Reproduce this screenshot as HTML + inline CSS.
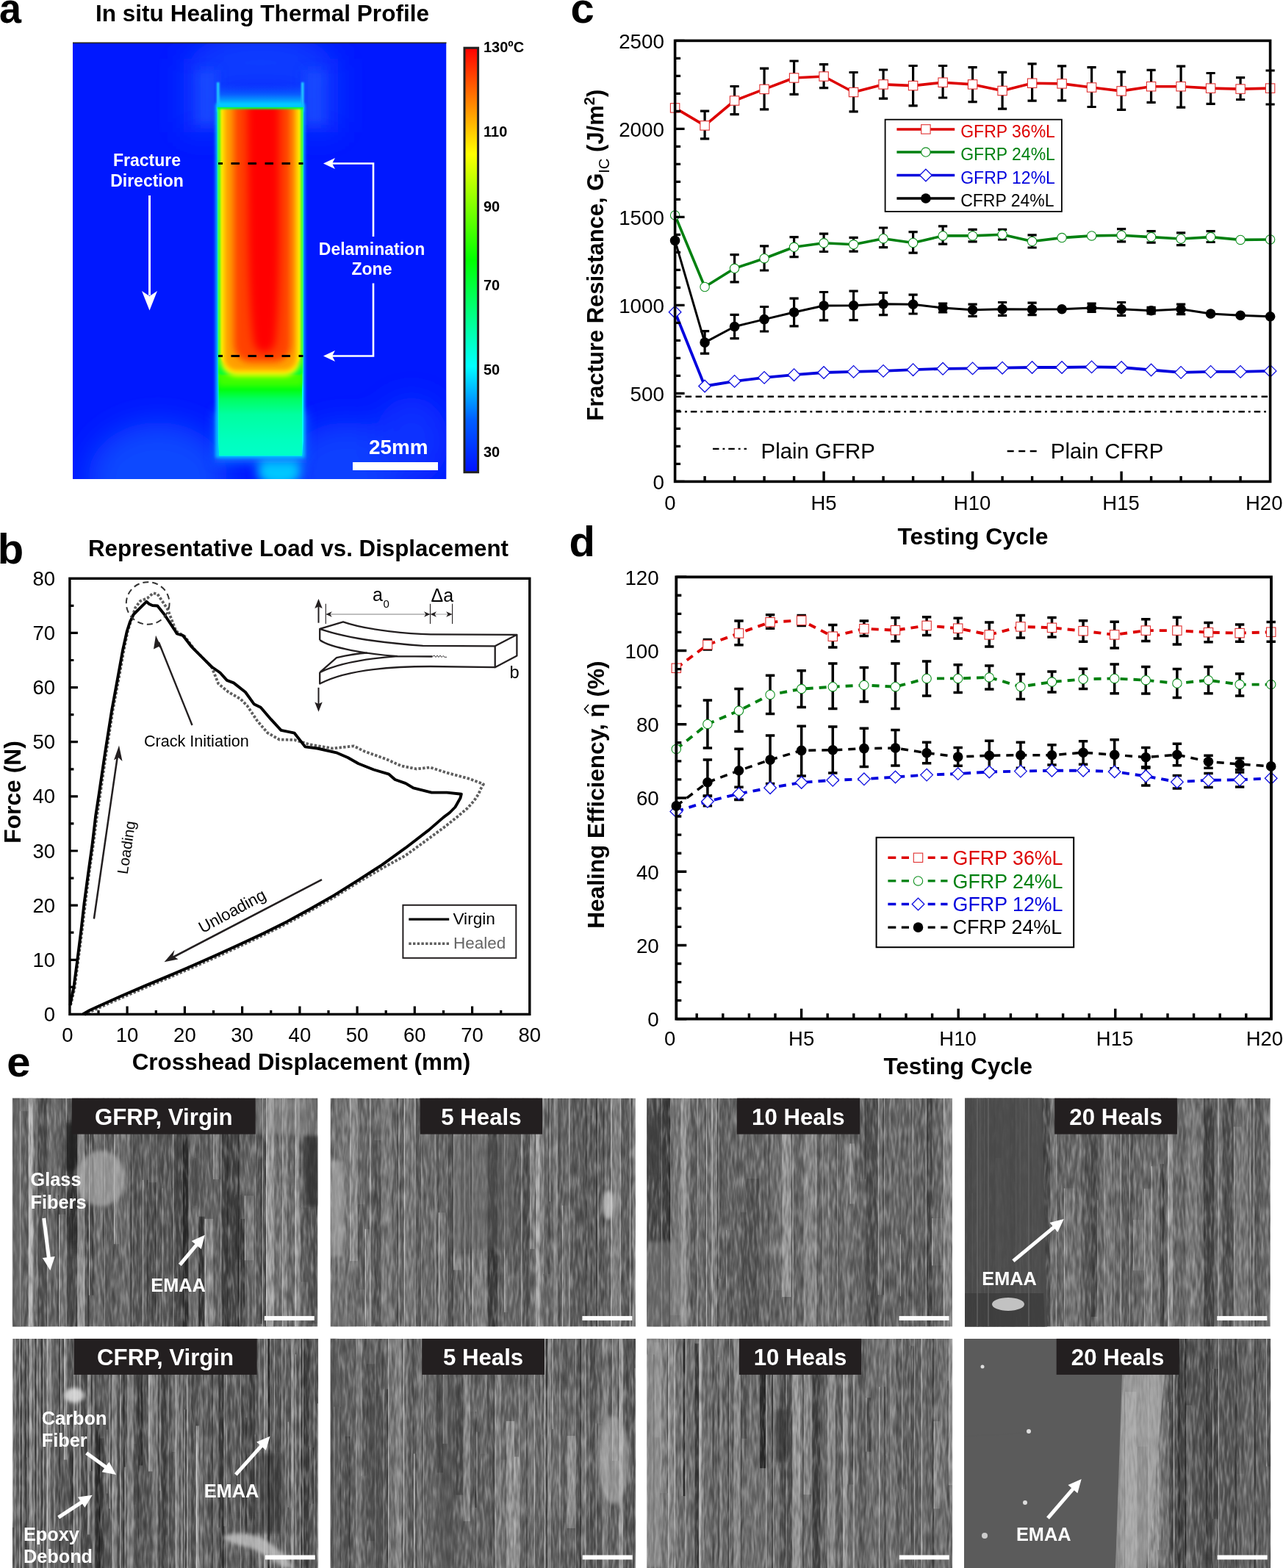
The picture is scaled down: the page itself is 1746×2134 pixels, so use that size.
<!DOCTYPE html>
<html><head><meta charset="utf-8"><title>Figure</title>
<style>
html,body{margin:0;padding:0;background:#fff;}
#fig{position:relative;width:1746px;height:2134px;overflow:hidden;background:#fff;}
svg{display:block;font-family:'Liberation Sans', Arial, sans-serif;}
</style></head><body><div id="fig">
<svg width="1746" height="2134" viewBox="0 0 1746 2134">
<text transform="translate(-1,30.5) scale(0.93,1)" font-size="58" font-weight="bold">a</text>
<text x="130" y="28.5" font-size="31.5" font-weight="bold" textLength="454" lengthAdjust="spacingAndGlyphs">In situ Healing Thermal Profile</text>
<defs><clipPath id="thc"><rect x="99" y="58.5" width="508.5" height="593.5"/></clipPath><clipPath id="spc"><path d="M295.5,146 L412.7,146 L412.7,600 L411,620.5 L298.4,620.5 L297,600 Z"/></clipPath><filter id="b1" x="-50%" y="-50%" width="200%" height="200%"><feGaussianBlur stdDeviation="1.2"/></filter><filter id="b3" x="-50%" y="-50%" width="200%" height="200%"><feGaussianBlur stdDeviation="3.5"/></filter><filter id="b5" x="-50%" y="-50%" width="200%" height="200%"><feGaussianBlur stdDeviation="5"/></filter><filter id="b6" x="-50%" y="-50%" width="200%" height="200%"><feGaussianBlur stdDeviation="6"/></filter><filter id="b2" x="-50%" y="-50%" width="200%" height="200%"><feGaussianBlur stdDeviation="2"/></filter><filter id="b4" x="-50%" y="-50%" width="200%" height="200%"><feGaussianBlur stdDeviation="4"/></filter><filter id="b7" x="-50%" y="-50%" width="200%" height="200%"><feGaussianBlur stdDeviation="7"/></filter><filter id="b12" x="-50%" y="-50%" width="200%" height="200%"><feGaussianBlur stdDeviation="12"/></filter><filter id="b20" x="-50%" y="-50%" width="200%" height="200%"><feGaussianBlur stdDeviation="20"/></filter><linearGradient id="lowg" x1="0" y1="0" x2="0" y2="1" gradientUnits="objectBoundingBox"><stop offset="0" stop-color="#60ff00"/><stop offset="0.25" stop-color="#20ff00"/><stop offset="0.36" stop-color="#00ff10"/><stop offset="0.45" stop-color="#00ff60"/><stop offset="0.6" stop-color="#00ffa0"/><stop offset="0.85" stop-color="#00ffbe"/><stop offset="1" stop-color="#00ffc8"/></linearGradient><linearGradient id="topg" x1="0" y1="0" x2="0" y2="1"><stop offset="0" stop-color="#0a40ff" stop-opacity="0"/><stop offset="0.5" stop-color="#0a60ff"/><stop offset="0.8" stop-color="#00b0ff"/><stop offset="1" stop-color="#00f0ff"/></linearGradient><linearGradient id="jet" x1="0" y1="1" x2="0" y2="0"><stop offset="0" stop-color="#0010ff"/><stop offset="0.125" stop-color="#0060ff"/><stop offset="0.25" stop-color="#00ffff"/><stop offset="0.5" stop-color="#00ff00"/><stop offset="0.75" stop-color="#ffff00"/><stop offset="0.875" stop-color="#ff8000"/><stop offset="1" stop-color="#ff0000"/></linearGradient></defs>
<g clip-path="url(#thc)">
<rect x="99" y="58.5" width="508.5" height="593.5" fill="#0018ff"/>
<g filter="url(#b20)"><ellipse cx="355" cy="85" rx="95" ry="40" fill="#0c3cff"/><rect x="250" y="80" width="55" height="100" fill="#0c3aff"/><rect x="405" y="80" width="55" height="100" fill="#0c3aff"/><ellipse cx="215" cy="650" rx="95" ry="75" fill="#1048ff"/><ellipse cx="470" cy="640" rx="80" ry="65" fill="#0c40ff"/><ellipse cx="560" cy="600" rx="50" ry="60" fill="#0a30ff"/></g>
<g filter="url(#b7)"><ellipse cx="380" cy="642" rx="30" ry="20" fill="#00c8ff"/><rect x="292" y="560" width="125" height="70" fill="#0a70ff"/><rect x="268" y="95" width="28" height="75" fill="#1a50ff" opacity="0.7"/><rect x="414" y="95" width="28" height="75" fill="#1a50ff" opacity="0.7"/></g>
<rect x="298" y="112" width="112" height="34" fill="url(#topg)"/>
<g filter="url(#b1)"><rect x="295" y="112" width="3.5" height="40" fill="#20d0ff"/><rect x="410" y="112" width="3.5" height="40" fill="#20d0ff"/></g>
<g filter="url(#b2)"><rect x="293.5" y="141" width="121" height="482" fill="#00c8ff"/></g>
<g clip-path="url(#spc)">
<rect x="295.5" y="130" width="118.5" height="495" fill="#00ffff"/>
<rect x="297.5" y="480" width="113.5" height="140" fill="url(#lowg)"/>
<g filter="url(#b3)"><rect x="297.6" y="100" width="113.8" height="425" rx="4" fill="#40ff00"/></g><g filter="url(#b1)"><rect x="297.6" y="100" width="113.8" height="410" rx="4" fill="#00ff30"/></g>
<g filter="url(#b3)"><rect x="300.5" y="100" width="108" height="412" rx="22" fill="#ffff00"/></g><g filter="url(#b1)"><rect x="300.8" y="100" width="107.4" height="395" rx="10" fill="#ffff00"/></g>
<g filter="url(#b3)"><rect x="304.5" y="100" width="100" height="405" rx="18" fill="#ffa000"/></g>
<g filter="url(#b5)"><rect x="318" y="100" width="78" height="393" rx="24" fill="#ff4200"/></g>
<g filter="url(#b6)"><path d="M336,100 L380,100 L380,330 Q379,440 374,470 Q360,490 346,470 Q340,440 338,330 Z" fill="#ff0000"/></g>
<g filter="url(#b1)"><rect x="296" y="144" width="117" height="4.5" fill="#00ff40"/></g>
</g>
</g>
<rect x="99" y="57.5" width="508.5" height="1.6" fill="#222"/>
<line x1="297" y1="222.5" x2="412.5" y2="222.5" stroke="#000" stroke-width="3" stroke-dasharray="11.5 11.5" stroke-dashoffset="5.5"/>
<line x1="297" y1="484.5" x2="412.5" y2="484.5" stroke="#000" stroke-width="3" stroke-dasharray="11.5 11.5" stroke-dashoffset="5.5"/>
<text x="200" y="225.7" font-size="23" font-weight="bold" text-anchor="middle" fill="#fff">Fracture</text>
<text x="200" y="253.8" font-size="23" font-weight="bold" text-anchor="middle" fill="#fff">Direction</text>
<line x1="203.5" y1="266" x2="203.5" y2="402" stroke="#fff" stroke-width="3"/>
<path d="M193,396 L203.5,422.5 L214,396 L203.5,403 Z" fill="#fff"/>
<text x="506" y="347" font-size="23" font-weight="bold" text-anchor="middle" fill="#fff">Delamination</text>
<text x="506" y="374" font-size="23" font-weight="bold" text-anchor="middle" fill="#fff">Zone</text>
<polyline points="508,322 508,222.5 448,222.5" fill="none" stroke="#fff" stroke-width="2.6"/>
<polyline points="508,385.5 508,484.5 448,484.5" fill="none" stroke="#fff" stroke-width="2.6"/>
<path d="M440,222.5 L456,215 L452,222.5 L456,230 Z" fill="#fff"/>
<path d="M440,484.5 L456,477 L452,484.5 L456,492 Z" fill="#fff"/>
<rect x="480" y="629" width="116" height="11" fill="#fff"/>
<text x="502" y="617.5" font-size="27.9" font-weight="bold" fill="#fff">25mm</text>
<rect x="632" y="65.2" width="18.6" height="577.5" fill="url(#jet)" stroke="#222" stroke-width="3"/>
<text x="658" y="71" font-size="20" font-weight="bold">130ºC</text>
<text x="658" y="186" font-size="20" font-weight="bold">110</text>
<text x="658" y="287.7" font-size="20" font-weight="bold">90</text>
<text x="658" y="395.4" font-size="20" font-weight="bold">70</text>
<text x="658" y="510" font-size="20" font-weight="bold">50</text>
<text x="658" y="621.7" font-size="20" font-weight="bold">30</text>
<text x="-3.2" y="767" font-size="58" font-weight="bold">b</text>
<text x="120" y="757" font-size="31.3" font-weight="bold" textLength="572" lengthAdjust="spacingAndGlyphs">Representative Load vs. Displacement</text>
<polyline points="96,1368 98,1360 101.5,1345 106,1310 112,1264 116,1230 121,1190 127,1149 132,1110 136.5,1080 144.5,1025 153.5,967 163,916 168.5,885 174,858 184.3,826.8 191,818 200.5,814.1 208.5,807.2 214.3,808.4 228.1,829.1 239.6,859.1 251.2,866 265,884.4 288,907.5 297.2,930.5 311,942 327.2,951.2 336.4,960.5 350.2,981.2 364,997.3 380.2,1006.5 400.7,1007 421.5,1013.3 452.6,1018.5 481.6,1015.4 496.1,1022.6 525.2,1033 545.9,1042.3 566.6,1046.5 585.3,1044.4 608.1,1051.7 639.2,1060 657.9,1067.2 653.7,1074.5 651.7,1080 645,1090 636,1100 622,1112 605,1125.5 583.9,1141 551.6,1164.5 519.4,1182 487.1,1201 454.8,1221 422.6,1239.3 390.3,1256.9 358,1272.9 325.8,1288 293.5,1302.8 261.3,1317 229,1330.9 196.8,1344.4 164.5,1358.3 132.3,1372.6 122,1377.3 115,1381" fill="none" stroke="#5e5e5e" stroke-width="3.8" stroke-dasharray="3.4 2.3" stroke-linejoin="round"/>
<polyline points="95.5,1368 96.8,1360 100.2,1345 104.8,1310.4 110.6,1264.3 114.5,1229.8 119.8,1190.6 125.6,1149.1 130.2,1110 134.8,1080 142.9,1025 152,967.4 161.3,916.7 167,885 172.8,859 177,846 182,836 191.2,826.8 199.3,818.8 203,822 207.4,824 214.3,824.5 223.5,836 237.3,856.8 240.8,862.5 248.8,864.8 260.4,879.8 276.5,896 288,907.5 299.5,915.5 308.8,925.9 318,929.4 334,942 345.6,958.2 354.8,962.8 368.7,978.9 382.5,993.9 400.7,997.7 415.3,1016.4 431.8,1018.5 458.8,1024.7 473.3,1031 487.8,1039.2 508.6,1047.5 529.3,1053.7 537.6,1061 552.1,1066.2 562.5,1072.4 587.4,1078.6 608.1,1078.6 627.8,1080.7 626.5,1086 622,1094 619.4,1098.5 612,1106 603.2,1112.6 583.9,1129.4 551.6,1154.2 519.4,1177.3 487.1,1198.1 454.8,1218.4 422.6,1236.8 390.3,1254.4 358,1270.4 325.8,1285.5 293.5,1300.3 261.3,1314.5 229,1328.4 196.8,1341.9 164.5,1355.8 132.3,1370.3 122,1375 112.9,1380.2" fill="none" stroke="#000" stroke-width="3.9" stroke-linejoin="round"/>
<ellipse cx="201.2" cy="821" rx="29.4" ry="28.8" fill="none" stroke="#333" stroke-width="2" stroke-dasharray="8 5"/>
<line x1="261.5" y1="987" x2="216" y2="874" stroke="#231f20" stroke-width="2.4"/>
<path d="M212,864.8 L221.5,885 L216,880 L209,883.5 Z" fill="#231f20"/>
<text x="195.9" y="1016.2" font-size="21.6">Crack Initiation</text>
<line x1="127.9" y1="1250.5" x2="160.5" y2="1025" stroke="#231f20" stroke-width="2.5"/>
<path d="M162,1014.6 L166.5,1036 L161,1031 L155,1034.5 Z" fill="#231f20"/>
<text transform="translate(179,1154.5) rotate(-81.5)" font-size="20.5" text-anchor="middle">Loading</text>
<line x1="438" y1="1197.2" x2="232" y2="1304.5" stroke="#231f20" stroke-width="2.6"/>
<path d="M223.5,1309.3 L237.5,1293 L235.5,1301 L242.5,1305.5 Z" fill="#231f20"/>
<text transform="translate(319.5,1246.5) rotate(-28.5)" font-size="22.3" text-anchor="middle">Unloading</text>
<rect x="548.4" y="1231.8" width="153.9" height="72" fill="#fff" stroke="#231f20" stroke-width="2"/>
<line x1="556.3" y1="1251.1" x2="611.2" y2="1251.1" stroke="#000" stroke-width="3.2"/>
<text x="616.4" y="1258.3" font-size="22.7">Virgin</text>
<line x1="556.3" y1="1284.3" x2="611.2" y2="1284.3" stroke="#5e5e5e" stroke-width="3.6" stroke-dasharray="3.4 2.3"/>
<text x="617" y="1291.1" font-size="22.5" fill="#666">Healed</text>
<line x1="433.5" y1="847.7" x2="433.5" y2="824" stroke="#231f20" stroke-width="2"/>
<path d="M433.5,814.9 L438.7,828 L433.5,825.5 L428.3,828 Z" fill="#231f20"/>
<line x1="433.5" y1="935.8" x2="433.5" y2="960" stroke="#231f20" stroke-width="2"/>
<path d="M433.5,968.7 L438.7,955.6 L433.5,958 L428.3,955.6 Z" fill="#231f20"/>
<line x1="443.3" y1="821.8" x2="443.3" y2="849" stroke="#231f20" stroke-width="1.1"/>
<line x1="585.5" y1="821.8" x2="585.5" y2="849" stroke="#231f20" stroke-width="1.1"/>
<line x1="615.6" y1="821.8" x2="615.6" y2="849" stroke="#231f20" stroke-width="1.1"/>
<line x1="445" y1="836" x2="584" y2="836" stroke="#aaa" stroke-width="1.3"/>
<line x1="587" y1="836" x2="614" y2="836" stroke="#aaa" stroke-width="1.1"/>
<path d="M443.3,836 l8.5,-3.7 l-2.5,3.7 l2.5,3.7 Z" fill="#231f20"/>
<path d="M585.5,836 l-8.5,-3.7 l2.5,3.7 l-2.5,3.7 Z" fill="#231f20"/>
<path d="M585.5,836 l8.5,-3.7 l-2.5,3.7 l2.5,3.7 Z" fill="#231f20"/>
<path d="M615.6,836 l-8.5,-3.7 l2.5,3.7 l-2.5,3.7 Z" fill="#231f20"/>
<text x="507" y="818.3" font-size="25">a</text>
<text x="521.5" y="826.6" font-size="15">0</text>
<text x="586.5" y="819" font-size="25">Δa</text>
<text x="693.5" y="922.9" font-size="23.7">b</text>
<path d="M435.2,871 L435.2,855.8 L467,846.3 C500,858 560,863 585.9,863.3 L703.4,863.8 L673.7,879.3 L575.5,878.8 C520,875 470,868 435.2,855.8 M703.4,863.8 L703.4,892.6 L673.7,908.2 L673.7,879.3 M435.2,871 C450,882 500,890 541,893.2 L588.5,893.5 M435.2,915.1 L435.2,930.6 C470,912 530,907 585.9,907 L673.7,908.2 M435.2,915.1 L458,895.2 C475,891 490,889 500,888.5 M435.2,915.1 C460,903 500,896 541,893.2" fill="none" stroke="#231f20" stroke-width="2.3" stroke-linejoin="round"/>
<path d="M588.5,893.5 l2.5,-1.5 l2,2.5 l2,-2.5 l2,2.5 l2,-2.5 l2,2.5 l2,-2 l2,1.8 l3,0" fill="none" stroke="#231f20" stroke-width="0.9"/>
<rect x="94.9" y="787.3" width="625.9" height="593.1" fill="none" stroke="#000" stroke-width="3.4"/>
<path d="M94.9,1343.3h5.5M94.9,1306.3h11M94.9,1269.2h5.5M94.9,1232.1h11M94.9,1195.1h5.5M94.9,1158h11M94.9,1120.9h5.5M94.9,1083.8h11M94.9,1046.8h5.5M94.9,1009.7h11M94.9,972.6h5.5M94.9,935.6h11M94.9,898.5h5.5M94.9,861.4h11M94.9,824.4h5.5M134,1380.4v-5.5M173.1,1380.4v-11M212.3,1380.4v-5.5M251.4,1380.4v-11M290.5,1380.4v-5.5M329.6,1380.4v-11M368.7,1380.4v-5.5M407.9,1380.4v-11M447,1380.4v-5.5M486.1,1380.4v-11M525.2,1380.4v-5.5M564.3,1380.4v-11M603.5,1380.4v-5.5M642.6,1380.4v-11M681.7,1380.4v-5.5" stroke="#000" stroke-width="3.2" fill="none"/>
<text x="75" y="1389.9" font-size="27.5" text-anchor="end">0</text>
<text x="91.9" y="1417.6" font-size="27.5" text-anchor="middle">0</text>
<text x="75" y="1315.8" font-size="27.5" text-anchor="end">10</text>
<text x="173.1" y="1417.6" font-size="27.5" text-anchor="middle">10</text>
<text x="75" y="1241.6" font-size="27.5" text-anchor="end">20</text>
<text x="251.4" y="1417.6" font-size="27.5" text-anchor="middle">20</text>
<text x="75" y="1167.5" font-size="27.5" text-anchor="end">30</text>
<text x="329.6" y="1417.6" font-size="27.5" text-anchor="middle">30</text>
<text x="75" y="1093.3" font-size="27.5" text-anchor="end">40</text>
<text x="407.9" y="1417.6" font-size="27.5" text-anchor="middle">40</text>
<text x="75" y="1019.2" font-size="27.5" text-anchor="end">50</text>
<text x="486.1" y="1417.6" font-size="27.5" text-anchor="middle">50</text>
<text x="75" y="945.1" font-size="27.5" text-anchor="end">60</text>
<text x="564.3" y="1417.6" font-size="27.5" text-anchor="middle">60</text>
<text x="75" y="870.9" font-size="27.5" text-anchor="end">70</text>
<text x="642.6" y="1417.6" font-size="27.5" text-anchor="middle">70</text>
<text x="75" y="796.8" font-size="27.5" text-anchor="end">80</text>
<text x="720.8" y="1417.6" font-size="27.5" text-anchor="middle">80</text>
<text x="179.7" y="1456" font-size="31.4" font-weight="bold" textLength="460.6" lengthAdjust="spacingAndGlyphs">Crosshead Displacement (mm)</text>
<text transform="translate(27.8,1078) rotate(-90)" font-size="31.8" font-weight="bold" text-anchor="middle">Force (N)</text>
<line x1="918.6" y1="539.8" x2="1728.6" y2="539.8" stroke="#000" stroke-width="2.6" stroke-dasharray="8.5 5.5"/>
<line x1="918.6" y1="560.3" x2="1728.6" y2="560.3" stroke="#000" stroke-width="2.6" stroke-dasharray="8.5 5 2.8 5"/>
<polyline points="918.6,146.9 959.1,170.9 999.6,137 1040.1,121.4 1080.6,106 1121.1,104 1161.6,125.5 1202.1,114.9 1242.6,116.6 1283.1,112.2 1323.6,114.9 1364.1,123.5 1404.6,113.2 1445.1,113.9 1485.6,119 1526.1,123.9 1566.6,117.7 1607.1,117.7 1647.6,120.1 1688.1,121.1 1728.6,120.1" fill="none" stroke="#dd0000" stroke-width="3.6" stroke-linejoin="round"/>
<polyline points="918.6,293 959.1,390.5 999.6,365.3 1040.1,351.7 1080.6,336.3 1121.1,330.8 1161.6,332.8 1202.1,324.7 1242.6,330.5 1283.1,320.9 1323.6,320.9 1364.1,319.2 1404.6,328.5 1445.1,323.6 1485.6,320.9 1526.1,320.2 1566.6,322.6 1607.1,325 1647.6,322.6 1688.1,326.4 1728.6,326" fill="none" stroke="#008010" stroke-width="3.6" stroke-linejoin="round"/>
<polyline points="918.6,424.7 959.1,525.5 999.6,518.9 1040.1,513.9 1080.6,510.2 1121.1,507 1161.6,505.9 1202.1,504.9 1242.6,503.2 1283.1,501.8 1323.6,501.4 1364.1,500.7 1404.6,500 1445.1,500 1485.6,499.4 1526.1,500 1566.6,503.5 1607.1,506.9 1647.6,505.9 1688.1,505.9 1728.6,504.9" fill="none" stroke="#0000dd" stroke-width="3.8" stroke-linejoin="round"/>
<polyline points="918.6,327.4 959.1,466.1 999.6,444.5 1040.1,434.6 1080.6,425 1121.1,416 1161.6,415.8 1202.1,413.8 1242.6,414.2 1283.1,419 1323.6,421.8 1364.1,420.8 1404.6,421.1 1445.1,420.8 1485.6,419 1526.1,420.8 1566.6,422.8 1607.1,420.8 1647.6,427 1688.1,429.3 1728.6,430.7" fill="none" stroke="#000" stroke-width="3" stroke-linejoin="round"/>
<path d="M959.1,151.1 V188.8 M953,151.1 h12.2 M953,188.8 h12.2" stroke="#000" stroke-width="3.2" fill="none"/>
<path d="M999.6,117.5 V155.6 M993.5,117.5 h12.2 M993.5,155.6 h12.2" stroke="#000" stroke-width="3.2" fill="none"/>
<path d="M1040.1,93.1 V148.9 M1034,93.1 h12.2 M1034,148.9 h12.2" stroke="#000" stroke-width="3.2" fill="none"/>
<path d="M1080.6,83 V128.3 M1074.5,83 h12.2 M1074.5,128.3 h12.2" stroke="#000" stroke-width="3.2" fill="none"/>
<path d="M1121.1,87.7 V119.6 M1115,87.7 h12.2 M1115,119.6 h12.2" stroke="#000" stroke-width="3.2" fill="none"/>
<path d="M1161.6,98.5 V151.8 M1155.5,98.5 h12.2 M1155.5,151.8 h12.2" stroke="#000" stroke-width="3.2" fill="none"/>
<path d="M1202.1,95 V134.2 M1196,95 h12.2 M1196,134.2 h12.2" stroke="#000" stroke-width="3.2" fill="none"/>
<path d="M1242.6,89.5 V143.8 M1236.5,89.5 h12.2 M1236.5,143.8 h12.2" stroke="#000" stroke-width="3.2" fill="none"/>
<path d="M1283.1,89.5 V133 M1277,89.5 h12.2 M1277,133 h12.2" stroke="#000" stroke-width="3.2" fill="none"/>
<path d="M1323.6,91.6 V138.6 M1317.5,91.6 h12.2 M1317.5,138.6 h12.2" stroke="#000" stroke-width="3.2" fill="none"/>
<path d="M1364.1,98.4 V148.2 M1358,98.4 h12.2 M1358,148.2 h12.2" stroke="#000" stroke-width="3.2" fill="none"/>
<path d="M1404.6,86.8 V137.2 M1398.5,86.8 h12.2 M1398.5,137.2 h12.2" stroke="#000" stroke-width="3.2" fill="none"/>
<path d="M1445.1,89.9 V136.9 M1439,89.9 h12.2 M1439,136.9 h12.2" stroke="#000" stroke-width="3.2" fill="none"/>
<path d="M1485.6,91.6 V145.5 M1479.5,91.6 h12.2 M1479.5,145.5 h12.2" stroke="#000" stroke-width="3.2" fill="none"/>
<path d="M1526.1,97.8 V149.3 M1520,97.8 h12.2 M1520,149.3 h12.2" stroke="#000" stroke-width="3.2" fill="none"/>
<path d="M1566.6,95.4 V139.3 M1560.5,95.4 h12.2 M1560.5,139.3 h12.2" stroke="#000" stroke-width="3.2" fill="none"/>
<path d="M1607.1,90.2 V146.2 M1601,90.2 h12.2 M1601,146.2 h12.2" stroke="#000" stroke-width="3.2" fill="none"/>
<path d="M1647.6,99.5 V141.4 M1641.5,99.5 h12.2 M1641.5,141.4 h12.2" stroke="#000" stroke-width="3.2" fill="none"/>
<path d="M1688.1,105.7 V135.5 M1682,105.7 h12.2 M1682,135.5 h12.2" stroke="#000" stroke-width="3.2" fill="none"/>
<path d="M1728.6,96 V142 M1722.5,96 h12.2 M1722.5,142 h12.2" stroke="#000" stroke-width="3.2" fill="none"/>
<path d="M999.6,346.7 V383.9 M993.5,346.7 h12.2 M993.5,383.9 h12.2" stroke="#000" stroke-width="3.2" fill="none"/>
<path d="M1040.1,334.8 V368 M1034,334.8 h12.2 M1034,368 h12.2" stroke="#000" stroke-width="3.2" fill="none"/>
<path d="M1080.6,322.7 V349.7 M1074.5,322.7 h12.2 M1074.5,349.7 h12.2" stroke="#000" stroke-width="3.2" fill="none"/>
<path d="M1121.1,318.2 V342.5 M1115,318.2 h12.2 M1115,342.5 h12.2" stroke="#000" stroke-width="3.2" fill="none"/>
<path d="M1161.6,323.4 V342.2 M1155.5,323.4 h12.2 M1155.5,342.2 h12.2" stroke="#000" stroke-width="3.2" fill="none"/>
<path d="M1202.1,310 V336.7 M1196,310 h12.2 M1196,336.7 h12.2" stroke="#000" stroke-width="3.2" fill="none"/>
<path d="M1242.6,315.7 V344.2 M1236.5,315.7 h12.2 M1236.5,344.2 h12.2" stroke="#000" stroke-width="3.2" fill="none"/>
<path d="M1283.1,307.9 V332.2 M1277,307.9 h12.2 M1277,332.2 h12.2" stroke="#000" stroke-width="3.2" fill="none"/>
<path d="M1323.6,312.3 V328.8 M1317.5,312.3 h12.2 M1317.5,328.8 h12.2" stroke="#000" stroke-width="3.2" fill="none"/>
<path d="M1364.1,312.3 V326 M1358,312.3 h12.2 M1358,326 h12.2" stroke="#000" stroke-width="3.2" fill="none"/>
<path d="M1404.6,319.9 V337 M1398.5,319.9 h12.2 M1398.5,337 h12.2" stroke="#000" stroke-width="3.2" fill="none"/>
<path d="M1526.1,311.6 V328.8 M1520,311.6 h12.2 M1520,328.8 h12.2" stroke="#000" stroke-width="3.2" fill="none"/>
<path d="M1566.6,314.7 V330.2 M1560.5,314.7 h12.2 M1560.5,330.2 h12.2" stroke="#000" stroke-width="3.2" fill="none"/>
<path d="M1607.1,316.8 V333.6 M1601,316.8 h12.2 M1601,333.6 h12.2" stroke="#000" stroke-width="3.2" fill="none"/>
<path d="M1647.6,314.7 V329.5 M1641.5,314.7 h12.2 M1641.5,329.5 h12.2" stroke="#000" stroke-width="3.2" fill="none"/>
<path d="M959.1,450.7 V481.2 M953,450.7 h12.2 M953,481.2 h12.2" stroke="#000" stroke-width="3.2" fill="none"/>
<path d="M999.6,428.4 V460.6 M993.5,428.4 h12.2 M993.5,460.6 h12.2" stroke="#000" stroke-width="3.2" fill="none"/>
<path d="M1040.1,417.5 V451 M1034,417.5 h12.2 M1034,451 h12.2" stroke="#000" stroke-width="3.2" fill="none"/>
<path d="M1080.6,406.1 V443.8 M1074.5,406.1 h12.2 M1074.5,443.8 h12.2" stroke="#000" stroke-width="3.2" fill="none"/>
<path d="M1121.1,397.5 V435.9 M1115,397.5 h12.2 M1115,435.9 h12.2" stroke="#000" stroke-width="3.2" fill="none"/>
<path d="M1161.6,396.1 V435.7 M1155.5,396.1 h12.2 M1155.5,435.7 h12.2" stroke="#000" stroke-width="3.2" fill="none"/>
<path d="M1202.1,398.4 V428.7 M1196,398.4 h12.2 M1196,428.7 h12.2" stroke="#000" stroke-width="3.2" fill="none"/>
<path d="M1242.6,401.2 V427 M1236.5,401.2 h12.2 M1236.5,427 h12.2" stroke="#000" stroke-width="3.2" fill="none"/>
<path d="M1283.1,413 V425 M1277,413 h12.2 M1277,425 h12.2" stroke="#000" stroke-width="3.2" fill="none"/>
<path d="M1323.6,414.2 V430.4 M1317.5,414.2 h12.2 M1317.5,430.4 h12.2" stroke="#000" stroke-width="3.2" fill="none"/>
<path d="M1364.1,411.5 V429.3 M1358,411.5 h12.2 M1358,429.3 h12.2" stroke="#000" stroke-width="3.2" fill="none"/>
<path d="M1404.6,412.2 V428.7 M1398.5,412.2 h12.2 M1398.5,428.7 h12.2" stroke="#000" stroke-width="3.2" fill="none"/>
<path d="M1485.6,413.2 V424.5 M1479.5,413.2 h12.2 M1479.5,424.5 h12.2" stroke="#000" stroke-width="3.2" fill="none"/>
<path d="M1526.1,411.5 V429.3 M1520,411.5 h12.2 M1520,429.3 h12.2" stroke="#000" stroke-width="3.2" fill="none"/>
<path d="M1566.6,418.4 V427 M1560.5,418.4 h12.2 M1560.5,427 h12.2" stroke="#000" stroke-width="3.2" fill="none"/>
<path d="M1607.1,414.2 V427.6 M1601,414.2 h12.2 M1601,427.6 h12.2" stroke="#000" stroke-width="3.2" fill="none"/>
<rect x="912.4" y="140.7" width="12.4" height="12.4" fill="#fff" stroke="#e03030" stroke-width="1.1"/>
<rect x="952.9" y="164.7" width="12.4" height="12.4" fill="#fff" stroke="#e03030" stroke-width="1.1"/>
<rect x="993.4" y="130.8" width="12.4" height="12.4" fill="#fff" stroke="#e03030" stroke-width="1.1"/>
<rect x="1033.9" y="115.2" width="12.4" height="12.4" fill="#fff" stroke="#e03030" stroke-width="1.1"/>
<rect x="1074.4" y="99.8" width="12.4" height="12.4" fill="#fff" stroke="#e03030" stroke-width="1.1"/>
<rect x="1114.9" y="97.8" width="12.4" height="12.4" fill="#fff" stroke="#e03030" stroke-width="1.1"/>
<rect x="1155.4" y="119.3" width="12.4" height="12.4" fill="#fff" stroke="#e03030" stroke-width="1.1"/>
<rect x="1195.9" y="108.7" width="12.4" height="12.4" fill="#fff" stroke="#e03030" stroke-width="1.1"/>
<rect x="1236.4" y="110.4" width="12.4" height="12.4" fill="#fff" stroke="#e03030" stroke-width="1.1"/>
<rect x="1276.9" y="106" width="12.4" height="12.4" fill="#fff" stroke="#e03030" stroke-width="1.1"/>
<rect x="1317.4" y="108.7" width="12.4" height="12.4" fill="#fff" stroke="#e03030" stroke-width="1.1"/>
<rect x="1357.9" y="117.3" width="12.4" height="12.4" fill="#fff" stroke="#e03030" stroke-width="1.1"/>
<rect x="1398.4" y="107" width="12.4" height="12.4" fill="#fff" stroke="#e03030" stroke-width="1.1"/>
<rect x="1438.9" y="107.7" width="12.4" height="12.4" fill="#fff" stroke="#e03030" stroke-width="1.1"/>
<rect x="1479.4" y="112.8" width="12.4" height="12.4" fill="#fff" stroke="#e03030" stroke-width="1.1"/>
<rect x="1519.9" y="117.7" width="12.4" height="12.4" fill="#fff" stroke="#e03030" stroke-width="1.1"/>
<rect x="1560.4" y="111.5" width="12.4" height="12.4" fill="#fff" stroke="#e03030" stroke-width="1.1"/>
<rect x="1600.9" y="111.5" width="12.4" height="12.4" fill="#fff" stroke="#e03030" stroke-width="1.1"/>
<rect x="1641.4" y="113.9" width="12.4" height="12.4" fill="#fff" stroke="#e03030" stroke-width="1.1"/>
<rect x="1681.9" y="114.9" width="12.4" height="12.4" fill="#fff" stroke="#e03030" stroke-width="1.1"/>
<rect x="1722.4" y="113.9" width="12.4" height="12.4" fill="#fff" stroke="#e03030" stroke-width="1.1"/>
<circle cx="918.6" cy="293" r="6.2" fill="#fff" stroke="#109020" stroke-width="1.1"/>
<circle cx="959.1" cy="390.5" r="6.2" fill="#fff" stroke="#109020" stroke-width="1.1"/>
<circle cx="999.6" cy="365.3" r="6.2" fill="#fff" stroke="#109020" stroke-width="1.1"/>
<circle cx="1040.1" cy="351.7" r="6.2" fill="#fff" stroke="#109020" stroke-width="1.1"/>
<circle cx="1080.6" cy="336.3" r="6.2" fill="#fff" stroke="#109020" stroke-width="1.1"/>
<circle cx="1121.1" cy="330.8" r="6.2" fill="#fff" stroke="#109020" stroke-width="1.1"/>
<circle cx="1161.6" cy="332.8" r="6.2" fill="#fff" stroke="#109020" stroke-width="1.1"/>
<circle cx="1202.1" cy="324.7" r="6.2" fill="#fff" stroke="#109020" stroke-width="1.1"/>
<circle cx="1242.6" cy="330.5" r="6.2" fill="#fff" stroke="#109020" stroke-width="1.1"/>
<circle cx="1283.1" cy="320.9" r="6.2" fill="#fff" stroke="#109020" stroke-width="1.1"/>
<circle cx="1323.6" cy="320.9" r="6.2" fill="#fff" stroke="#109020" stroke-width="1.1"/>
<circle cx="1364.1" cy="319.2" r="6.2" fill="#fff" stroke="#109020" stroke-width="1.1"/>
<circle cx="1404.6" cy="328.5" r="6.2" fill="#fff" stroke="#109020" stroke-width="1.1"/>
<circle cx="1445.1" cy="323.6" r="6.2" fill="#fff" stroke="#109020" stroke-width="1.1"/>
<circle cx="1485.6" cy="320.9" r="6.2" fill="#fff" stroke="#109020" stroke-width="1.1"/>
<circle cx="1526.1" cy="320.2" r="6.2" fill="#fff" stroke="#109020" stroke-width="1.1"/>
<circle cx="1566.6" cy="322.6" r="6.2" fill="#fff" stroke="#109020" stroke-width="1.1"/>
<circle cx="1607.1" cy="325" r="6.2" fill="#fff" stroke="#109020" stroke-width="1.1"/>
<circle cx="1647.6" cy="322.6" r="6.2" fill="#fff" stroke="#109020" stroke-width="1.1"/>
<circle cx="1688.1" cy="326.4" r="6.2" fill="#fff" stroke="#109020" stroke-width="1.1"/>
<circle cx="1728.6" cy="326" r="6.2" fill="#fff" stroke="#109020" stroke-width="1.1"/>
<path d="M918.6,416.4 l8.3,8.3 l-8.3,8.3 l-8.3,-8.3 Z" fill="#fff" stroke="#1010e0" stroke-width="1.3"/>
<path d="M959.1,517.2 l8.3,8.3 l-8.3,8.3 l-8.3,-8.3 Z" fill="#fff" stroke="#1010e0" stroke-width="1.3"/>
<path d="M999.6,510.6 l8.3,8.3 l-8.3,8.3 l-8.3,-8.3 Z" fill="#fff" stroke="#1010e0" stroke-width="1.3"/>
<path d="M1040.1,505.6 l8.3,8.3 l-8.3,8.3 l-8.3,-8.3 Z" fill="#fff" stroke="#1010e0" stroke-width="1.3"/>
<path d="M1080.6,501.9 l8.3,8.3 l-8.3,8.3 l-8.3,-8.3 Z" fill="#fff" stroke="#1010e0" stroke-width="1.3"/>
<path d="M1121.1,498.7 l8.3,8.3 l-8.3,8.3 l-8.3,-8.3 Z" fill="#fff" stroke="#1010e0" stroke-width="1.3"/>
<path d="M1161.6,497.6 l8.3,8.3 l-8.3,8.3 l-8.3,-8.3 Z" fill="#fff" stroke="#1010e0" stroke-width="1.3"/>
<path d="M1202.1,496.6 l8.3,8.3 l-8.3,8.3 l-8.3,-8.3 Z" fill="#fff" stroke="#1010e0" stroke-width="1.3"/>
<path d="M1242.6,494.9 l8.3,8.3 l-8.3,8.3 l-8.3,-8.3 Z" fill="#fff" stroke="#1010e0" stroke-width="1.3"/>
<path d="M1283.1,493.5 l8.3,8.3 l-8.3,8.3 l-8.3,-8.3 Z" fill="#fff" stroke="#1010e0" stroke-width="1.3"/>
<path d="M1323.6,493.1 l8.3,8.3 l-8.3,8.3 l-8.3,-8.3 Z" fill="#fff" stroke="#1010e0" stroke-width="1.3"/>
<path d="M1364.1,492.4 l8.3,8.3 l-8.3,8.3 l-8.3,-8.3 Z" fill="#fff" stroke="#1010e0" stroke-width="1.3"/>
<path d="M1404.6,491.7 l8.3,8.3 l-8.3,8.3 l-8.3,-8.3 Z" fill="#fff" stroke="#1010e0" stroke-width="1.3"/>
<path d="M1445.1,491.7 l8.3,8.3 l-8.3,8.3 l-8.3,-8.3 Z" fill="#fff" stroke="#1010e0" stroke-width="1.3"/>
<path d="M1485.6,491.1 l8.3,8.3 l-8.3,8.3 l-8.3,-8.3 Z" fill="#fff" stroke="#1010e0" stroke-width="1.3"/>
<path d="M1526.1,491.7 l8.3,8.3 l-8.3,8.3 l-8.3,-8.3 Z" fill="#fff" stroke="#1010e0" stroke-width="1.3"/>
<path d="M1566.6,495.2 l8.3,8.3 l-8.3,8.3 l-8.3,-8.3 Z" fill="#fff" stroke="#1010e0" stroke-width="1.3"/>
<path d="M1607.1,498.6 l8.3,8.3 l-8.3,8.3 l-8.3,-8.3 Z" fill="#fff" stroke="#1010e0" stroke-width="1.3"/>
<path d="M1647.6,497.6 l8.3,8.3 l-8.3,8.3 l-8.3,-8.3 Z" fill="#fff" stroke="#1010e0" stroke-width="1.3"/>
<path d="M1688.1,497.6 l8.3,8.3 l-8.3,8.3 l-8.3,-8.3 Z" fill="#fff" stroke="#1010e0" stroke-width="1.3"/>
<path d="M1728.6,496.6 l8.3,8.3 l-8.3,8.3 l-8.3,-8.3 Z" fill="#fff" stroke="#1010e0" stroke-width="1.3"/>
<circle cx="918.6" cy="327.4" r="6.8" fill="#000"/>
<circle cx="959.1" cy="466.1" r="6.8" fill="#000"/>
<circle cx="999.6" cy="444.5" r="6.8" fill="#000"/>
<circle cx="1040.1" cy="434.6" r="6.8" fill="#000"/>
<circle cx="1080.6" cy="425" r="6.8" fill="#000"/>
<circle cx="1121.1" cy="416" r="6.8" fill="#000"/>
<circle cx="1161.6" cy="415.8" r="6.8" fill="#000"/>
<circle cx="1202.1" cy="413.8" r="6.8" fill="#000"/>
<circle cx="1242.6" cy="414.2" r="6.8" fill="#000"/>
<circle cx="1283.1" cy="419" r="6.8" fill="#000"/>
<circle cx="1323.6" cy="421.8" r="6.8" fill="#000"/>
<circle cx="1364.1" cy="420.8" r="6.8" fill="#000"/>
<circle cx="1404.6" cy="421.1" r="6.8" fill="#000"/>
<circle cx="1445.1" cy="420.8" r="6.8" fill="#000"/>
<circle cx="1485.6" cy="419" r="6.8" fill="#000"/>
<circle cx="1526.1" cy="420.8" r="6.8" fill="#000"/>
<circle cx="1566.6" cy="422.8" r="6.8" fill="#000"/>
<circle cx="1607.1" cy="420.8" r="6.8" fill="#000"/>
<circle cx="1647.6" cy="427" r="6.8" fill="#000"/>
<circle cx="1688.1" cy="429.3" r="6.8" fill="#000"/>
<circle cx="1728.6" cy="430.7" r="6.8" fill="#000"/>
<rect x="918.6" y="55.4" width="810" height="600" fill="none" stroke="#000" stroke-width="3.6"/>
<path d="M918.6,655.4h13M918.6,631.4h7.5M918.6,607.4h7.5M918.6,583.4h7.5M918.6,559.4h7.5M918.6,535.4h13M918.6,511.4h7.5M918.6,487.4h7.5M918.6,463.4h7.5M918.6,439.4h7.5M918.6,415.4h13M918.6,391.4h7.5M918.6,367.4h7.5M918.6,343.4h7.5M918.6,319.4h7.5M918.6,295.4h13M918.6,271.4h7.5M918.6,247.4h7.5M918.6,223.4h7.5M918.6,199.4h7.5M918.6,175.4h13M918.6,151.4h7.5M918.6,127.4h7.5M918.6,103.4h7.5M918.6,79.4h7.5M918.6,55.4h13M959.1,655.4v-7.5M999.6,655.4v-7.5M1040.1,655.4v-7.5M1080.6,655.4v-7.5M1121.1,655.4v-14M1161.6,655.4v-7.5M1202.1,655.4v-7.5M1242.6,655.4v-7.5M1283.1,655.4v-7.5M1323.6,655.4v-14M1364.1,655.4v-7.5M1404.6,655.4v-7.5M1445.1,655.4v-7.5M1485.6,655.4v-7.5M1526.1,655.4v-14M1566.6,655.4v-7.5M1607.1,655.4v-7.5M1647.6,655.4v-7.5M1688.1,655.4v-7.5" stroke="#000" stroke-width="3.4" fill="none"/>
<text x="904" y="665.6" font-size="27.8" text-anchor="end">0</text>
<text x="904" y="545.6" font-size="27.8" text-anchor="end">500</text>
<text x="904" y="425.6" font-size="27.8" text-anchor="end">1000</text>
<text x="904" y="305.6" font-size="27.8" text-anchor="end">1500</text>
<text x="904" y="185.6" font-size="27.8" text-anchor="end">2000</text>
<text x="904" y="65.6" font-size="27.8" text-anchor="end">2500</text>
<text x="912" y="694.4" font-size="27.5" text-anchor="middle">0</text>
<text x="1121" y="694.4" font-size="27.5" text-anchor="middle">H5</text>
<text x="1323" y="694.4" font-size="27.5" text-anchor="middle">H10</text>
<text x="1525.5" y="694.4" font-size="27.5" text-anchor="middle">H15</text>
<text x="1695" y="694.4" font-size="27.5">H20</text>
<text x="1221.4" y="740.5" font-size="31.8" font-weight="bold" textLength="205" lengthAdjust="spacingAndGlyphs">Testing Cycle</text>
<text transform="translate(821,572.7) rotate(-90)" font-size="32" font-weight="bold" textLength="451" lengthAdjust="spacingAndGlyphs">Fracture Resistance, G<tspan font-size="21" font-weight="normal" dy="8">IC</tspan><tspan dy="-8"> (J/m</tspan><tspan font-size="21" dy="-12">2</tspan><tspan dy="12">)</tspan></text>
<rect x="1204.6" y="162.7" width="240.3" height="125.2" fill="#fff" stroke="#000" stroke-width="1.8"/>
<line x1="1220.4" y1="175.9" x2="1299.2" y2="175.9" stroke="#dd0000" stroke-width="3.5"/>
<rect x="1253.7" y="169.7" width="12.4" height="12.4" fill="#fff" stroke="#e03030" stroke-width="1.1"/>
<text x="1307.2" y="186.9" font-size="23" fill="#dd0000">GFRP 36%L</text>
<line x1="1220.4" y1="207.1" x2="1299.2" y2="207.1" stroke="#008010" stroke-width="3.5"/>
<circle cx="1259.9" cy="207.1" r="6.2" fill="#fff" stroke="#109020" stroke-width="1.1"/>
<text x="1307.2" y="218.1" font-size="23" fill="#008010">GFRP 24%L</text>
<line x1="1220.4" y1="238.5" x2="1299.2" y2="238.5" stroke="#0000dd" stroke-width="3.5"/>
<path d="M1259.9,230.2 l8.3,8.3 l-8.3,8.3 l-8.3,-8.3 Z" fill="#fff" stroke="#1010e0" stroke-width="1.3"/>
<text x="1307.2" y="249.5" font-size="23" fill="#0000dd">GFRP 12%L</text>
<line x1="1220.4" y1="270" x2="1299.2" y2="270" stroke="#000" stroke-width="3.5"/>
<circle cx="1259.9" cy="270" r="6.8" fill="#000"/>
<text x="1307.2" y="281" font-size="23">CFRP 24%L</text>
<line x1="970" y1="610.9" x2="1016" y2="610.9" stroke="#000" stroke-width="2.4" stroke-dasharray="8.5 5 2.8 5"/>
<text x="1035.6" y="624.2" font-size="29.4">Plain GFRP</text>
<line x1="1370.7" y1="614" x2="1415" y2="614" stroke="#000" stroke-width="2.4" stroke-dasharray="9 6.5"/>
<text x="1429.8" y="624.3" font-size="29.4">Plain CFRP</text>
<text x="776.4" y="30.5" font-size="58" font-weight="bold">c</text>
<polyline points="920.3,909.3 962.9,877.5 1005.5,861.9 1048.1,846.7 1090.7,844.4 1133.3,866.2 1175.9,855.7 1218.5,857.7 1261.1,851.4 1303.7,855.2 1346.3,863.9 1388.9,852.9 1431.5,854.3 1474.1,858.7 1516.7,863.9 1559.3,858.1 1601.9,858.1 1644.5,860.7 1687.1,861.6 1729.7,860.2" fill="none" stroke="#dd0000" stroke-width="3.9" stroke-linejoin="round" stroke-dasharray="10 8"/>
<polyline points="920.3,1019.4 962.9,985.4 1005.5,967.2 1048.1,945.5 1090.7,937.6 1133.3,934.7 1175.9,932.5 1218.5,934.7 1261.1,923.4 1303.7,923.4 1346.3,921.9 1388.9,934.5 1431.5,928.1 1474.1,924.3 1516.7,923.4 1559.3,925.7 1601.9,930.1 1644.5,925.7 1687.1,931.6 1729.7,931.6" fill="none" stroke="#008010" stroke-width="3.9" stroke-linejoin="round" stroke-dasharray="10 8"/>
<polyline points="920.3,1104.4 962.9,1090.8 1005.5,1080.2 1048.1,1072.2 1090.7,1065 1133.3,1061.8 1175.9,1060.3 1218.5,1057.5 1261.1,1054.6 1303.7,1053.1 1346.3,1050.5 1388.9,1049.6 1431.5,1048.7 1474.1,1048.7 1516.7,1050.2 1559.3,1056.3 1601.9,1064.2 1644.5,1061.8 1687.1,1061.3 1729.7,1059.2" fill="none" stroke="#0000dd" stroke-width="3.9" stroke-linejoin="round" stroke-dasharray="10 8"/>
<polyline points="920.3,1096.9 962.9,1064.7 1005.5,1048.8 1048.1,1034.1 1090.7,1021.4 1133.3,1020.8 1175.9,1018.6 1218.5,1018 1261.1,1024.8 1303.7,1030.1 1346.3,1028.3 1388.9,1027.7 1431.5,1027.7 1474.1,1024.2 1516.7,1027.2 1559.3,1030.7 1601.9,1027.2 1644.5,1036.5 1687.1,1040 1729.7,1042.9" fill="none" stroke="#000" stroke-width="3.5" stroke-linejoin="round" stroke-dasharray="10 8"/>
<path d="M962.9,870.4 V884 M956.7,870.4 h12.4 M956.7,884 h12.4" stroke="#000" stroke-width="3.5" fill="none"/>
<path d="M1005.5,845 V877.7 M999.3,845 h12.4 M999.3,877.7 h12.4" stroke="#000" stroke-width="3.5" fill="none"/>
<path d="M1048.1,836.8 V855.2 M1041.9,836.8 h12.4 M1041.9,855.2 h12.4" stroke="#000" stroke-width="3.5" fill="none"/>
<path d="M1090.7,837.4 V851.5 M1084.5,837.4 h12.4 M1084.5,851.5 h12.4" stroke="#000" stroke-width="3.5" fill="none"/>
<path d="M1133.3,850.6 V881.1 M1127.1,850.6 h12.4 M1127.1,881.1 h12.4" stroke="#000" stroke-width="3.5" fill="none"/>
<path d="M1175.9,845 V865.6 M1169.7,845 h12.4 M1169.7,865.6 h12.4" stroke="#000" stroke-width="3.5" fill="none"/>
<path d="M1218.5,840.8 V872.7 M1212.3,840.8 h12.4 M1212.3,872.7 h12.4" stroke="#000" stroke-width="3.5" fill="none"/>
<path d="M1261.1,839.7 V864.5 M1254.9,839.7 h12.4 M1254.9,864.5 h12.4" stroke="#000" stroke-width="3.5" fill="none"/>
<path d="M1303.7,841.2 V868.9 M1297.5,841.2 h12.4 M1297.5,868.9 h12.4" stroke="#000" stroke-width="3.5" fill="none"/>
<path d="M1346.3,847 V880 M1340.1,847 h12.4 M1340.1,880 h12.4" stroke="#000" stroke-width="3.5" fill="none"/>
<path d="M1388.9,837.4 V868 M1382.7,837.4 h12.4 M1382.7,868 h12.4" stroke="#000" stroke-width="3.5" fill="none"/>
<path d="M1431.5,840.6 V866.9 M1425.3,840.6 h12.4 M1425.3,866.9 h12.4" stroke="#000" stroke-width="3.5" fill="none"/>
<path d="M1474.1,844.7 V873.3 M1467.9,844.7 h12.4 M1467.9,873.3 h12.4" stroke="#000" stroke-width="3.5" fill="none"/>
<path d="M1516.7,846.2 V882 M1510.5,846.2 h12.4 M1510.5,882 h12.4" stroke="#000" stroke-width="3.5" fill="none"/>
<path d="M1559.3,842.7 V872.4 M1553.1,842.7 h12.4 M1553.1,872.4 h12.4" stroke="#000" stroke-width="3.5" fill="none"/>
<path d="M1601.9,840.3 V877 M1595.7,840.3 h12.4 M1595.7,877 h12.4" stroke="#000" stroke-width="3.5" fill="none"/>
<path d="M1644.5,847.6 V873.8 M1638.3,847.6 h12.4 M1638.3,873.8 h12.4" stroke="#000" stroke-width="3.5" fill="none"/>
<path d="M1687.1,850 V873.3 M1680.9,850 h12.4 M1680.9,873.3 h12.4" stroke="#000" stroke-width="3.5" fill="none"/>
<path d="M1729.7,846.5 V873.3 M1723.5,846.5 h12.4 M1723.5,873.3 h12.4" stroke="#000" stroke-width="3.5" fill="none"/>
<path d="M962.9,953.1 V1018 M956.7,953.1 h12.4 M956.7,1018 h12.4" stroke="#000" stroke-width="3.5" fill="none"/>
<path d="M1005.5,937.6 V995.4 M999.3,937.6 h12.4 M999.3,995.4 h12.4" stroke="#000" stroke-width="3.5" fill="none"/>
<path d="M1048.1,919.2 V971.4 M1041.9,919.2 h12.4 M1041.9,971.4 h12.4" stroke="#000" stroke-width="3.5" fill="none"/>
<path d="M1090.7,912.7 V962.4 M1084.5,912.7 h12.4 M1084.5,962.4 h12.4" stroke="#000" stroke-width="3.5" fill="none"/>
<path d="M1133.3,903.1 V964.4 M1127.1,903.1 h12.4 M1127.1,964.4 h12.4" stroke="#000" stroke-width="3.5" fill="none"/>
<path d="M1175.9,908.5 V955.1 M1169.7,908.5 h12.4 M1169.7,955.1 h12.4" stroke="#000" stroke-width="3.5" fill="none"/>
<path d="M1218.5,903.1 V964.4 M1212.3,903.1 h12.4 M1212.3,964.4 h12.4" stroke="#000" stroke-width="3.5" fill="none"/>
<path d="M1261.1,900.1 V947 M1254.9,900.1 h12.4 M1254.9,947 h12.4" stroke="#000" stroke-width="3.5" fill="none"/>
<path d="M1303.7,904.7 V942.6 M1297.5,904.7 h12.4 M1297.5,942.6 h12.4" stroke="#000" stroke-width="3.5" fill="none"/>
<path d="M1346.3,905.9 V938 M1340.1,905.9 h12.4 M1340.1,938 h12.4" stroke="#000" stroke-width="3.5" fill="none"/>
<path d="M1388.9,917.6 V951.4 M1382.7,917.6 h12.4 M1382.7,951.4 h12.4" stroke="#000" stroke-width="3.5" fill="none"/>
<path d="M1431.5,914.1 V942 M1425.3,914.1 h12.4 M1425.3,942 h12.4" stroke="#000" stroke-width="3.5" fill="none"/>
<path d="M1474.1,910.3 V937.4 M1467.9,910.3 h12.4 M1467.9,937.4 h12.4" stroke="#000" stroke-width="3.5" fill="none"/>
<path d="M1516.7,903.9 V943.8 M1510.5,903.9 h12.4 M1510.5,943.8 h12.4" stroke="#000" stroke-width="3.5" fill="none"/>
<path d="M1559.3,907.4 V944.1 M1553.1,907.4 h12.4 M1553.1,944.1 h12.4" stroke="#000" stroke-width="3.5" fill="none"/>
<path d="M1601.9,910.6 V949.6 M1595.7,910.6 h12.4 M1595.7,949.6 h12.4" stroke="#000" stroke-width="3.5" fill="none"/>
<path d="M1644.5,907.4 V943.8 M1638.3,907.4 h12.4 M1638.3,943.8 h12.4" stroke="#000" stroke-width="3.5" fill="none"/>
<path d="M1687.1,917 V947 M1680.9,917 h12.4 M1680.9,947 h12.4" stroke="#000" stroke-width="3.5" fill="none"/>
<path d="M962.9,1034.1 V1083.5 M956.7,1034.1 h12.4 M956.7,1083.5 h12.4" stroke="#000" stroke-width="3.5" fill="none"/>
<path d="M1005.5,1019.2 V1088.5 M999.3,1019.2 h12.4 M999.3,1088.5 h12.4" stroke="#000" stroke-width="3.5" fill="none"/>
<path d="M1048.1,1001 V1066.4 M1041.9,1001 h12.4 M1041.9,1066.4 h12.4" stroke="#000" stroke-width="3.5" fill="none"/>
<path d="M1090.7,988.3 V1056 M1084.5,988.3 h12.4 M1084.5,1056 h12.4" stroke="#000" stroke-width="3.5" fill="none"/>
<path d="M1133.3,989 V1051.9 M1127.1,989 h12.4 M1127.1,1051.9 h12.4" stroke="#000" stroke-width="3.5" fill="none"/>
<path d="M1175.9,991.2 V1043.4 M1169.7,991.2 h12.4 M1169.7,1043.4 h12.4" stroke="#000" stroke-width="3.5" fill="none"/>
<path d="M1218.5,993.5 V1042 M1212.3,993.5 h12.4 M1212.3,1042 h12.4" stroke="#000" stroke-width="3.5" fill="none"/>
<path d="M1261.1,1010.3 V1038.8 M1254.9,1010.3 h12.4 M1254.9,1038.8 h12.4" stroke="#000" stroke-width="3.5" fill="none"/>
<path d="M1303.7,1017.5 V1042.3 M1297.5,1017.5 h12.4 M1297.5,1042.3 h12.4" stroke="#000" stroke-width="3.5" fill="none"/>
<path d="M1346.3,1008.2 V1048.1 M1340.1,1008.2 h12.4 M1340.1,1048.1 h12.4" stroke="#000" stroke-width="3.5" fill="none"/>
<path d="M1388.9,1010.3 V1045.2 M1382.7,1010.3 h12.4 M1382.7,1045.2 h12.4" stroke="#000" stroke-width="3.5" fill="none"/>
<path d="M1431.5,1013.8 V1040.9 M1425.3,1013.8 h12.4 M1425.3,1040.9 h12.4" stroke="#000" stroke-width="3.5" fill="none"/>
<path d="M1474.1,1008.8 V1040.3 M1467.9,1008.8 h12.4 M1467.9,1040.3 h12.4" stroke="#000" stroke-width="3.5" fill="none"/>
<path d="M1516.7,1006.8 V1045.8 M1510.5,1006.8 h12.4 M1510.5,1045.8 h12.4" stroke="#000" stroke-width="3.5" fill="none"/>
<path d="M1559.3,1017.5 V1043.8 M1553.1,1017.5 h12.4 M1553.1,1043.8 h12.4" stroke="#000" stroke-width="3.5" fill="none"/>
<path d="M1601.9,1012.3 V1041.7 M1595.7,1012.3 h12.4 M1595.7,1041.7 h12.4" stroke="#000" stroke-width="3.5" fill="none"/>
<path d="M1644.5,1028.3 V1045.2 M1638.3,1028.3 h12.4 M1638.3,1045.2 h12.4" stroke="#000" stroke-width="3.5" fill="none"/>
<path d="M1687.1,1032.1 V1047.6 M1680.9,1032.1 h12.4 M1680.9,1047.6 h12.4" stroke="#000" stroke-width="3.5" fill="none"/>
<path d="M962.9,1083.1 V1096.7 M956.7,1083.1 h12.4 M956.7,1096.7 h12.4" stroke="#000" stroke-width="3.5" fill="none"/>
<path d="M1005.5,1071.3 V1088.2 M999.3,1071.3 h12.4 M999.3,1088.2 h12.4" stroke="#000" stroke-width="3.5" fill="none"/>
<path d="M1559.3,1045 V1069.1 M1553.1,1045 h12.4 M1553.1,1069.1 h12.4" stroke="#000" stroke-width="3.5" fill="none"/>
<path d="M1601.9,1055.4 V1072.9 M1595.7,1055.4 h12.4 M1595.7,1072.9 h12.4" stroke="#000" stroke-width="3.5" fill="none"/>
<path d="M1644.5,1052.5 V1071.5 M1638.3,1052.5 h12.4 M1638.3,1071.5 h12.4" stroke="#000" stroke-width="3.5" fill="none"/>
<path d="M1687.1,1051 V1071 M1680.9,1051 h12.4 M1680.9,1071 h12.4" stroke="#000" stroke-width="3.5" fill="none"/>
<rect x="914.1" y="903.1" width="12.4" height="12.4" fill="#fff" stroke="#e03030" stroke-width="1.1"/>
<rect x="956.7" y="871.3" width="12.4" height="12.4" fill="#fff" stroke="#e03030" stroke-width="1.1"/>
<rect x="999.3" y="855.7" width="12.4" height="12.4" fill="#fff" stroke="#e03030" stroke-width="1.1"/>
<rect x="1041.9" y="840.5" width="12.4" height="12.4" fill="#fff" stroke="#e03030" stroke-width="1.1"/>
<rect x="1084.5" y="838.2" width="12.4" height="12.4" fill="#fff" stroke="#e03030" stroke-width="1.1"/>
<rect x="1127.1" y="860" width="12.4" height="12.4" fill="#fff" stroke="#e03030" stroke-width="1.1"/>
<rect x="1169.7" y="849.5" width="12.4" height="12.4" fill="#fff" stroke="#e03030" stroke-width="1.1"/>
<rect x="1212.3" y="851.5" width="12.4" height="12.4" fill="#fff" stroke="#e03030" stroke-width="1.1"/>
<rect x="1254.9" y="845.2" width="12.4" height="12.4" fill="#fff" stroke="#e03030" stroke-width="1.1"/>
<rect x="1297.5" y="849" width="12.4" height="12.4" fill="#fff" stroke="#e03030" stroke-width="1.1"/>
<rect x="1340.1" y="857.7" width="12.4" height="12.4" fill="#fff" stroke="#e03030" stroke-width="1.1"/>
<rect x="1382.7" y="846.7" width="12.4" height="12.4" fill="#fff" stroke="#e03030" stroke-width="1.1"/>
<rect x="1425.3" y="848.1" width="12.4" height="12.4" fill="#fff" stroke="#e03030" stroke-width="1.1"/>
<rect x="1467.9" y="852.5" width="12.4" height="12.4" fill="#fff" stroke="#e03030" stroke-width="1.1"/>
<rect x="1510.5" y="857.7" width="12.4" height="12.4" fill="#fff" stroke="#e03030" stroke-width="1.1"/>
<rect x="1553.1" y="851.9" width="12.4" height="12.4" fill="#fff" stroke="#e03030" stroke-width="1.1"/>
<rect x="1595.7" y="851.9" width="12.4" height="12.4" fill="#fff" stroke="#e03030" stroke-width="1.1"/>
<rect x="1638.3" y="854.5" width="12.4" height="12.4" fill="#fff" stroke="#e03030" stroke-width="1.1"/>
<rect x="1680.9" y="855.4" width="12.4" height="12.4" fill="#fff" stroke="#e03030" stroke-width="1.1"/>
<rect x="1723.5" y="854" width="12.4" height="12.4" fill="#fff" stroke="#e03030" stroke-width="1.1"/>
<circle cx="920.3" cy="1019.4" r="6.2" fill="#fff" stroke="#109020" stroke-width="1.1"/>
<circle cx="962.9" cy="985.4" r="6.2" fill="#fff" stroke="#109020" stroke-width="1.1"/>
<circle cx="1005.5" cy="967.2" r="6.2" fill="#fff" stroke="#109020" stroke-width="1.1"/>
<circle cx="1048.1" cy="945.5" r="6.2" fill="#fff" stroke="#109020" stroke-width="1.1"/>
<circle cx="1090.7" cy="937.6" r="6.2" fill="#fff" stroke="#109020" stroke-width="1.1"/>
<circle cx="1133.3" cy="934.7" r="6.2" fill="#fff" stroke="#109020" stroke-width="1.1"/>
<circle cx="1175.9" cy="932.5" r="6.2" fill="#fff" stroke="#109020" stroke-width="1.1"/>
<circle cx="1218.5" cy="934.7" r="6.2" fill="#fff" stroke="#109020" stroke-width="1.1"/>
<circle cx="1261.1" cy="923.4" r="6.2" fill="#fff" stroke="#109020" stroke-width="1.1"/>
<circle cx="1303.7" cy="923.4" r="6.2" fill="#fff" stroke="#109020" stroke-width="1.1"/>
<circle cx="1346.3" cy="921.9" r="6.2" fill="#fff" stroke="#109020" stroke-width="1.1"/>
<circle cx="1388.9" cy="934.5" r="6.2" fill="#fff" stroke="#109020" stroke-width="1.1"/>
<circle cx="1431.5" cy="928.1" r="6.2" fill="#fff" stroke="#109020" stroke-width="1.1"/>
<circle cx="1474.1" cy="924.3" r="6.2" fill="#fff" stroke="#109020" stroke-width="1.1"/>
<circle cx="1516.7" cy="923.4" r="6.2" fill="#fff" stroke="#109020" stroke-width="1.1"/>
<circle cx="1559.3" cy="925.7" r="6.2" fill="#fff" stroke="#109020" stroke-width="1.1"/>
<circle cx="1601.9" cy="930.1" r="6.2" fill="#fff" stroke="#109020" stroke-width="1.1"/>
<circle cx="1644.5" cy="925.7" r="6.2" fill="#fff" stroke="#109020" stroke-width="1.1"/>
<circle cx="1687.1" cy="931.6" r="6.2" fill="#fff" stroke="#109020" stroke-width="1.1"/>
<circle cx="1729.7" cy="931.6" r="6.2" fill="#fff" stroke="#109020" stroke-width="1.1"/>
<path d="M920.3,1096.1 l8.3,8.3 l-8.3,8.3 l-8.3,-8.3 Z" fill="#fff" stroke="#1010e0" stroke-width="1.3"/>
<path d="M962.9,1082.5 l8.3,8.3 l-8.3,8.3 l-8.3,-8.3 Z" fill="#fff" stroke="#1010e0" stroke-width="1.3"/>
<path d="M1005.5,1071.9 l8.3,8.3 l-8.3,8.3 l-8.3,-8.3 Z" fill="#fff" stroke="#1010e0" stroke-width="1.3"/>
<path d="M1048.1,1063.9 l8.3,8.3 l-8.3,8.3 l-8.3,-8.3 Z" fill="#fff" stroke="#1010e0" stroke-width="1.3"/>
<path d="M1090.7,1056.7 l8.3,8.3 l-8.3,8.3 l-8.3,-8.3 Z" fill="#fff" stroke="#1010e0" stroke-width="1.3"/>
<path d="M1133.3,1053.5 l8.3,8.3 l-8.3,8.3 l-8.3,-8.3 Z" fill="#fff" stroke="#1010e0" stroke-width="1.3"/>
<path d="M1175.9,1052 l8.3,8.3 l-8.3,8.3 l-8.3,-8.3 Z" fill="#fff" stroke="#1010e0" stroke-width="1.3"/>
<path d="M1218.5,1049.2 l8.3,8.3 l-8.3,8.3 l-8.3,-8.3 Z" fill="#fff" stroke="#1010e0" stroke-width="1.3"/>
<path d="M1261.1,1046.3 l8.3,8.3 l-8.3,8.3 l-8.3,-8.3 Z" fill="#fff" stroke="#1010e0" stroke-width="1.3"/>
<path d="M1303.7,1044.8 l8.3,8.3 l-8.3,8.3 l-8.3,-8.3 Z" fill="#fff" stroke="#1010e0" stroke-width="1.3"/>
<path d="M1346.3,1042.2 l8.3,8.3 l-8.3,8.3 l-8.3,-8.3 Z" fill="#fff" stroke="#1010e0" stroke-width="1.3"/>
<path d="M1388.9,1041.3 l8.3,8.3 l-8.3,8.3 l-8.3,-8.3 Z" fill="#fff" stroke="#1010e0" stroke-width="1.3"/>
<path d="M1431.5,1040.4 l8.3,8.3 l-8.3,8.3 l-8.3,-8.3 Z" fill="#fff" stroke="#1010e0" stroke-width="1.3"/>
<path d="M1474.1,1040.4 l8.3,8.3 l-8.3,8.3 l-8.3,-8.3 Z" fill="#fff" stroke="#1010e0" stroke-width="1.3"/>
<path d="M1516.7,1041.9 l8.3,8.3 l-8.3,8.3 l-8.3,-8.3 Z" fill="#fff" stroke="#1010e0" stroke-width="1.3"/>
<path d="M1559.3,1048 l8.3,8.3 l-8.3,8.3 l-8.3,-8.3 Z" fill="#fff" stroke="#1010e0" stroke-width="1.3"/>
<path d="M1601.9,1055.9 l8.3,8.3 l-8.3,8.3 l-8.3,-8.3 Z" fill="#fff" stroke="#1010e0" stroke-width="1.3"/>
<path d="M1644.5,1053.5 l8.3,8.3 l-8.3,8.3 l-8.3,-8.3 Z" fill="#fff" stroke="#1010e0" stroke-width="1.3"/>
<path d="M1687.1,1053 l8.3,8.3 l-8.3,8.3 l-8.3,-8.3 Z" fill="#fff" stroke="#1010e0" stroke-width="1.3"/>
<path d="M1729.7,1050.9 l8.3,8.3 l-8.3,8.3 l-8.3,-8.3 Z" fill="#fff" stroke="#1010e0" stroke-width="1.3"/>
<circle cx="920.3" cy="1096.9" r="6.8" fill="#000"/>
<circle cx="962.9" cy="1064.7" r="6.8" fill="#000"/>
<circle cx="1005.5" cy="1048.8" r="6.8" fill="#000"/>
<circle cx="1048.1" cy="1034.1" r="6.8" fill="#000"/>
<circle cx="1090.7" cy="1021.4" r="6.8" fill="#000"/>
<circle cx="1133.3" cy="1020.8" r="6.8" fill="#000"/>
<circle cx="1175.9" cy="1018.6" r="6.8" fill="#000"/>
<circle cx="1218.5" cy="1018" r="6.8" fill="#000"/>
<circle cx="1261.1" cy="1024.8" r="6.8" fill="#000"/>
<circle cx="1303.7" cy="1030.1" r="6.8" fill="#000"/>
<circle cx="1346.3" cy="1028.3" r="6.8" fill="#000"/>
<circle cx="1388.9" cy="1027.7" r="6.8" fill="#000"/>
<circle cx="1431.5" cy="1027.7" r="6.8" fill="#000"/>
<circle cx="1474.1" cy="1024.2" r="6.8" fill="#000"/>
<circle cx="1516.7" cy="1027.2" r="6.8" fill="#000"/>
<circle cx="1559.3" cy="1030.7" r="6.8" fill="#000"/>
<circle cx="1601.9" cy="1027.2" r="6.8" fill="#000"/>
<circle cx="1644.5" cy="1036.5" r="6.8" fill="#000"/>
<circle cx="1687.1" cy="1040" r="6.8" fill="#000"/>
<circle cx="1729.7" cy="1042.9" r="6.8" fill="#000"/>
<rect x="920.3" y="785.3" width="809.7" height="601.4" fill="none" stroke="#000" stroke-width="3.8"/>
<path d="M920.3,1386.7h14M920.3,1361.6h7M920.3,1336.6h7M920.3,1311.5h7M920.3,1286.5h14M920.3,1261.4h7M920.3,1236.3h7M920.3,1211.3h7M920.3,1186.2h14M920.3,1161.2h7M920.3,1136.1h7M920.3,1111h7M920.3,1086h14M920.3,1060.9h7M920.3,1035.9h7M920.3,1010.8h7M920.3,985.7h14M920.3,960.7h7M920.3,935.6h7M920.3,910.6h7M920.3,885.5h14M920.3,860.4h7M920.3,835.4h7M920.3,810.3h7M920.3,785.3h14M948.2,1386.7v-7.5M983.8,1386.7v-7.5M1019.4,1386.7v-7.5M1055,1386.7v-7.5M1090.6,1386.7v-14M1126.2,1386.7v-7.5M1161.8,1386.7v-7.5M1197.4,1386.7v-7.5M1233,1386.7v-7.5M1268.6,1386.7v-7.5M1304.2,1386.7v-14M1339.8,1386.7v-7.5M1375.4,1386.7v-7.5M1411,1386.7v-7.5M1446.6,1386.7v-7.5M1482.2,1386.7v-7.5M1517.8,1386.7v-14M1553.4,1386.7v-7.5M1589,1386.7v-7.5M1624.6,1386.7v-7.5M1660.2,1386.7v-7.5M1695.8,1386.7v-7.5" stroke="#000" stroke-width="3.4" fill="none"/>
<text x="896.8" y="1397.1" font-size="27.8" text-anchor="end">0</text>
<text x="896.8" y="1296.9" font-size="27.8" text-anchor="end">20</text>
<text x="896.8" y="1196.6" font-size="27.8" text-anchor="end">40</text>
<text x="896.8" y="1096.4" font-size="27.8" text-anchor="end">60</text>
<text x="896.8" y="996.1" font-size="27.8" text-anchor="end">80</text>
<text x="896.8" y="895.9" font-size="27.8" text-anchor="end">100</text>
<text x="896.8" y="795.7" font-size="27.8" text-anchor="end">120</text>
<text x="911.7" y="1423.3" font-size="27.5" text-anchor="middle">0</text>
<text x="1090.6" y="1423.3" font-size="27.5" text-anchor="middle">H5</text>
<text x="1303.5" y="1423.3" font-size="27.5" text-anchor="middle">H10</text>
<text x="1517" y="1423.3" font-size="27.5" text-anchor="middle">H15</text>
<text x="1695.7" y="1423.3" font-size="27.5">H20</text>
<text x="1202.4" y="1462.3" font-size="31.5" font-weight="bold" textLength="202.6" lengthAdjust="spacingAndGlyphs">Testing Cycle</text>
<text transform="translate(821.7,1263.8) rotate(-90)" font-size="32" font-weight="bold" textLength="364.4" lengthAdjust="spacingAndGlyphs">Healing Efficiency, η (%)</text>
<path d="M801,959 L795.5,965 L801,971" fill="none" stroke="#000" stroke-width="1.6"/>
<rect x="1192.6" y="1139.8" width="268.6" height="149.4" fill="#fff" stroke="#000" stroke-width="2"/>
<line x1="1208.4" y1="1167.3" x2="1237" y2="1167.3" stroke="#dd0000" stroke-width="3.4" stroke-dasharray="10.9 7.5"/>
<line x1="1262.7" y1="1167.3" x2="1289.5" y2="1167.3" stroke="#dd0000" stroke-width="3.4" stroke-dasharray="10 7.5"/>
<rect x="1243.3" y="1161.1" width="12.4" height="12.4" fill="#fff" stroke="#e03030" stroke-width="1.1"/>
<text x="1296.6" y="1176.6" font-size="26.8" fill="#dd0000">GFRP 36%L</text>
<line x1="1208.4" y1="1198.9" x2="1237" y2="1198.9" stroke="#008010" stroke-width="3.4" stroke-dasharray="10.9 7.5"/>
<line x1="1262.7" y1="1198.9" x2="1289.5" y2="1198.9" stroke="#008010" stroke-width="3.4" stroke-dasharray="10 7.5"/>
<circle cx="1249.5" cy="1198.9" r="6.2" fill="#fff" stroke="#109020" stroke-width="1.1"/>
<text x="1296.6" y="1208.6" font-size="26.8" fill="#008010">GFRP 24%L</text>
<line x1="1208.4" y1="1230.5" x2="1237" y2="1230.5" stroke="#0000dd" stroke-width="3.4" stroke-dasharray="10.9 7.5"/>
<line x1="1262.7" y1="1230.5" x2="1289.5" y2="1230.5" stroke="#0000dd" stroke-width="3.4" stroke-dasharray="10 7.5"/>
<path d="M1249.5,1222.2 l8.3,8.3 l-8.3,8.3 l-8.3,-8.3 Z" fill="#fff" stroke="#1010e0" stroke-width="1.3"/>
<text x="1296.6" y="1240" font-size="26.8" fill="#0000dd">GFRP 12%L</text>
<line x1="1208.4" y1="1262.1" x2="1237" y2="1262.1" stroke="#000" stroke-width="3.4" stroke-dasharray="10.9 7.5"/>
<line x1="1262.7" y1="1262.1" x2="1289.5" y2="1262.1" stroke="#000" stroke-width="3.4" stroke-dasharray="10 7.5"/>
<circle cx="1249.5" cy="1262.1" r="6.8" fill="#000"/>
<text x="1296.6" y="1271.4" font-size="26.8">CFRP 24%L</text>
<text x="774.4" y="756.8" font-size="58" font-weight="bold">d</text>
<text x="9.2" y="1465.3" font-size="58" font-weight="bold">e</text>
<defs>
<clipPath id="semc0"><rect x="16.9" y="1494.6" width="415.4" height="311"/></clipPath>
<filter id="sb0" x="-20%" y="-20%" width="140%" height="140%"><feGaussianBlur stdDeviation="10"/></filter>
<filter id="tx0" x="0" y="0" width="100%" height="100%" color-interpolation-filters="sRGB"><feTurbulence type="fractalNoise" baseFrequency="0.3 0.045" numOctaves="2" seed="3" result="n"/><feColorMatrix in="n" type="matrix" values="0 0 0 0 1 0 0 0 0 1 0 0 0 0 1 0.8 0 0 0 -0.4" result="w"/><feColorMatrix in="n" type="matrix" values="0 0 0 0 0 0 0 0 0 0 0 0 0 0 0 -0.8 0 0 0 0.4" result="k"/><feMerge><feMergeNode in="w"/><feMergeNode in="k"/></feMerge></filter>
<clipPath id="semc1"><rect x="449.6" y="1494.6" width="415.3" height="311"/></clipPath>
<filter id="sb1" x="-20%" y="-20%" width="140%" height="140%"><feGaussianBlur stdDeviation="10"/></filter>
<filter id="tx1" x="0" y="0" width="100%" height="100%" color-interpolation-filters="sRGB"><feTurbulence type="fractalNoise" baseFrequency="0.3 0.045" numOctaves="2" seed="4" result="n"/><feColorMatrix in="n" type="matrix" values="0 0 0 0 1 0 0 0 0 1 0 0 0 0 1 0.8 0 0 0 -0.4" result="w"/><feColorMatrix in="n" type="matrix" values="0 0 0 0 0 0 0 0 0 0 0 0 0 0 0 -0.8 0 0 0 0.4" result="k"/><feMerge><feMergeNode in="w"/><feMergeNode in="k"/></feMerge></filter>
<clipPath id="semc2"><rect x="880.2" y="1494.6" width="415.8" height="311"/></clipPath>
<filter id="sb2" x="-20%" y="-20%" width="140%" height="140%"><feGaussianBlur stdDeviation="10"/></filter>
<filter id="tx2" x="0" y="0" width="100%" height="100%" color-interpolation-filters="sRGB"><feTurbulence type="fractalNoise" baseFrequency="0.3 0.045" numOctaves="2" seed="5" result="n"/><feColorMatrix in="n" type="matrix" values="0 0 0 0 1 0 0 0 0 1 0 0 0 0 1 0.8 0 0 0 -0.4" result="w"/><feColorMatrix in="n" type="matrix" values="0 0 0 0 0 0 0 0 0 0 0 0 0 0 0 -0.8 0 0 0 0.4" result="k"/><feMerge><feMergeNode in="w"/><feMergeNode in="k"/></feMerge></filter>
<clipPath id="semc3"><rect x="1313" y="1494.6" width="415.8" height="311"/></clipPath>
<filter id="sb3" x="-20%" y="-20%" width="140%" height="140%"><feGaussianBlur stdDeviation="10"/></filter>
<filter id="tx3" x="0" y="0" width="100%" height="100%" color-interpolation-filters="sRGB"><feTurbulence type="fractalNoise" baseFrequency="0.3 0.045" numOctaves="2" seed="6" result="n"/><feColorMatrix in="n" type="matrix" values="0 0 0 0 1 0 0 0 0 1 0 0 0 0 1 0.8 0 0 0 -0.4" result="w"/><feColorMatrix in="n" type="matrix" values="0 0 0 0 0 0 0 0 0 0 0 0 0 0 0 -0.8 0 0 0 0.4" result="k"/><feMerge><feMergeNode in="w"/><feMergeNode in="k"/></feMerge></filter>
<clipPath id="semc4"><rect x="16.9" y="1821.9" width="416.4" height="312.1"/></clipPath>
<filter id="sb4" x="-20%" y="-20%" width="140%" height="140%"><feGaussianBlur stdDeviation="10"/></filter>
<filter id="tx4" x="0" y="0" width="100%" height="100%" color-interpolation-filters="sRGB"><feTurbulence type="fractalNoise" baseFrequency="0.3 0.045" numOctaves="2" seed="7" result="n"/><feColorMatrix in="n" type="matrix" values="0 0 0 0 1 0 0 0 0 1 0 0 0 0 1 0.8 0 0 0 -0.4" result="w"/><feColorMatrix in="n" type="matrix" values="0 0 0 0 0 0 0 0 0 0 0 0 0 0 0 -0.8 0 0 0 0.4" result="k"/><feMerge><feMergeNode in="w"/><feMergeNode in="k"/></feMerge></filter>
<clipPath id="semc5"><rect x="449.6" y="1821.9" width="415.6" height="312.1"/></clipPath>
<filter id="sb5" x="-20%" y="-20%" width="140%" height="140%"><feGaussianBlur stdDeviation="10"/></filter>
<filter id="tx5" x="0" y="0" width="100%" height="100%" color-interpolation-filters="sRGB"><feTurbulence type="fractalNoise" baseFrequency="0.3 0.045" numOctaves="2" seed="8" result="n"/><feColorMatrix in="n" type="matrix" values="0 0 0 0 1 0 0 0 0 1 0 0 0 0 1 0.8 0 0 0 -0.4" result="w"/><feColorMatrix in="n" type="matrix" values="0 0 0 0 0 0 0 0 0 0 0 0 0 0 0 -0.8 0 0 0 0.4" result="k"/><feMerge><feMergeNode in="w"/><feMergeNode in="k"/></feMerge></filter>
<clipPath id="semc6"><rect x="880.2" y="1821.9" width="416.1" height="312.1"/></clipPath>
<filter id="sb6" x="-20%" y="-20%" width="140%" height="140%"><feGaussianBlur stdDeviation="10"/></filter>
<filter id="tx6" x="0" y="0" width="100%" height="100%" color-interpolation-filters="sRGB"><feTurbulence type="fractalNoise" baseFrequency="0.3 0.045" numOctaves="2" seed="9" result="n"/><feColorMatrix in="n" type="matrix" values="0 0 0 0 1 0 0 0 0 1 0 0 0 0 1 0.8 0 0 0 -0.4" result="w"/><feColorMatrix in="n" type="matrix" values="0 0 0 0 0 0 0 0 0 0 0 0 0 0 0 -0.8 0 0 0 0.4" result="k"/><feMerge><feMergeNode in="w"/><feMergeNode in="k"/></feMerge></filter>
<clipPath id="semc7"><rect x="1312" y="1821.9" width="417.2" height="312.1"/></clipPath>
<filter id="sb7" x="-20%" y="-20%" width="140%" height="140%"><feGaussianBlur stdDeviation="10"/></filter>
<filter id="tx7" x="0" y="0" width="100%" height="100%" color-interpolation-filters="sRGB"><feTurbulence type="fractalNoise" baseFrequency="0.3 0.045" numOctaves="2" seed="10" result="n"/><feColorMatrix in="n" type="matrix" values="0 0 0 0 1 0 0 0 0 1 0 0 0 0 1 0.8 0 0 0 -0.4" result="w"/><feColorMatrix in="n" type="matrix" values="0 0 0 0 0 0 0 0 0 0 0 0 0 0 0 -0.8 0 0 0 0.4" result="k"/><feMerge><feMergeNode in="w"/><feMergeNode in="k"/></feMerge></filter>
<filter id="sf2" x="-10%" y="-10%" width="120%" height="120%"><feGaussianBlur stdDeviation="2.5"/></filter>
</defs>
<g clip-path="url(#semc0)">
<rect x="16.9" y="1494.6" width="415.4" height="311" fill="#646464"/>
<g filter="url(#sb0)">
<rect x="17" y="1494" width="60" height="312" fill="#717171"/>
<rect x="90" y="1540" width="20" height="160" fill="#2b2b2b"/>
<rect x="210" y="1494" width="60" height="312" fill="#585858"/>
<rect x="330" y="1600" width="100" height="200" fill="#6a6a6a"/>
</g>
<rect x="16.9" y="1494.6" width="10" height="311" fill="#000" opacity="0.40"/>
<rect x="16.9" y="1494.6" width="1.2" height="311" fill="#fff" opacity="0.26"/>
<rect x="26.9" y="1512.2" width="11.9" height="293.4" fill="#000" opacity="0.16"/>
<rect x="26.9" y="1512.2" width="1.2" height="293.4" fill="#fff" opacity="0.48"/>
<rect x="38.8" y="1494.6" width="5.5" height="311" fill="#fff" opacity="0.48"/>
<rect x="38.8" y="1494.6" width="1.2" height="311" fill="#fff" opacity="0.21"/>
<rect x="44.3" y="1494.6" width="5.7" height="311" fill="#000" opacity="0.05"/>
<rect x="44.3" y="1494.6" width="1.2" height="311" fill="#fff" opacity="0.36"/>
<rect x="49.9" y="1494.6" width="14.3" height="311" fill="#000" opacity="0.27"/>
<rect x="49.9" y="1494.6" width="1.2" height="311" fill="#fff" opacity="0.30"/>
<rect x="64.2" y="1626.7" width="16" height="178.9" fill="#000" opacity="0.03"/>
<rect x="64.2" y="1626.7" width="1.2" height="178.9" fill="#fff" opacity="0.30"/>
<rect x="78.6" y="1626.7" width="1.5" height="178.9" fill="#000" opacity="0.43"/>
<rect x="80.1" y="1652.7" width="9.4" height="152.9" fill="#fff" opacity="0.11"/>
<rect x="80.1" y="1652.7" width="1.2" height="152.9" fill="#fff" opacity="0.52"/>
<rect x="89.5" y="1494.6" width="15.8" height="311" fill="#000" opacity="0.15"/>
<rect x="89.5" y="1494.6" width="1.2" height="311" fill="#fff" opacity="0.47"/>
<rect x="103.8" y="1494.6" width="1.5" height="311" fill="#000" opacity="0.23"/>
<rect x="105.3" y="1494.6" width="8.7" height="311" fill="#fff" opacity="0.31"/>
<rect x="105.3" y="1494.6" width="1.2" height="311" fill="#fff" opacity="0.22"/>
<rect x="114" y="1494.6" width="7" height="311" fill="#000" opacity="0.07"/>
<rect x="114" y="1494.6" width="1.2" height="311" fill="#fff" opacity="0.46"/>
<rect x="119.4" y="1494.6" width="1.5" height="311" fill="#000" opacity="0.39"/>
<rect x="120.9" y="1494.6" width="6.3" height="268.2" fill="#000" opacity="0.11"/>
<rect x="120.9" y="1494.6" width="1.2" height="268.2" fill="#fff" opacity="0.51"/>
<rect x="125.7" y="1494.6" width="1.5" height="268.2" fill="#000" opacity="0.32"/>
<rect x="127.2" y="1494.6" width="14.4" height="311" fill="#fff" opacity="0.06"/>
<rect x="140.1" y="1494.6" width="1.5" height="311" fill="#000" opacity="0.28"/>
<rect x="141.6" y="1494.6" width="13.5" height="311" fill="#000" opacity="0.08"/>
<rect x="141.6" y="1494.6" width="1.2" height="311" fill="#fff" opacity="0.29"/>
<rect x="155.1" y="1494.6" width="9.1" height="198.6" fill="#fff" opacity="0.14"/>
<rect x="155.1" y="1494.6" width="1.2" height="198.6" fill="#fff" opacity="0.50"/>
<rect x="162.7" y="1494.6" width="1.5" height="198.6" fill="#000" opacity="0.25"/>
<rect x="164.2" y="1494.6" width="15" height="311" fill="#fff" opacity="0.06"/>
<rect x="177.7" y="1494.6" width="1.5" height="311" fill="#000" opacity="0.49"/>
<rect x="179.2" y="1494.6" width="14.7" height="311" fill="#000" opacity="0.13"/>
<rect x="179.2" y="1494.6" width="1.2" height="311" fill="#fff" opacity="0.21"/>
<rect x="193.9" y="1605.9" width="7.6" height="199.7" fill="#000" opacity="0.04"/>
<rect x="193.9" y="1605.9" width="1.2" height="199.7" fill="#fff" opacity="0.45"/>
<rect x="200" y="1605.9" width="1.5" height="199.7" fill="#000" opacity="0.27"/>
<rect x="201.5" y="1609.2" width="11.2" height="196.4" fill="#000" opacity="0.14"/>
<rect x="211.2" y="1609.2" width="1.5" height="196.4" fill="#000" opacity="0.20"/>
<rect x="212.7" y="1494.6" width="8" height="311" fill="#000" opacity="0.06"/>
<rect x="212.7" y="1494.6" width="1.2" height="311" fill="#fff" opacity="0.25"/>
<rect x="220.6" y="1617.2" width="14.8" height="188.4" fill="#fff" opacity="0.02"/>
<rect x="220.6" y="1617.2" width="1.2" height="188.4" fill="#fff" opacity="0.25"/>
<rect x="233.9" y="1617.2" width="1.5" height="188.4" fill="#000" opacity="0.21"/>
<rect x="235.4" y="1494.6" width="15" height="311" fill="#000" opacity="0.15"/>
<rect x="235.4" y="1494.6" width="1.2" height="311" fill="#fff" opacity="0.46"/>
<rect x="249" y="1494.6" width="1.5" height="311" fill="#000" opacity="0.50"/>
<rect x="250.5" y="1494.6" width="5.8" height="311" fill="#000" opacity="0.46"/>
<rect x="256.3" y="1494.6" width="12.7" height="311" fill="#fff" opacity="0.11"/>
<rect x="269" y="1655.7" width="9.6" height="149.9" fill="#000" opacity="0.40"/>
<rect x="269" y="1655.7" width="1.2" height="149.9" fill="#fff" opacity="0.33"/>
<rect x="278.6" y="1658.8" width="11.7" height="146.8" fill="#fff" opacity="0.24"/>
<rect x="278.6" y="1658.8" width="1.2" height="146.8" fill="#fff" opacity="0.46"/>
<rect x="290.3" y="1510.2" width="9.8" height="94.8" fill="#fff" opacity="0.13"/>
<rect x="290.3" y="1510.2" width="1.2" height="94.8" fill="#fff" opacity="0.37"/>
<rect x="298.7" y="1510.2" width="1.5" height="94.8" fill="#000" opacity="0.41"/>
<rect x="300.2" y="1494.6" width="10.5" height="311" fill="#000" opacity="0.32"/>
<rect x="300.2" y="1494.6" width="1.2" height="311" fill="#fff" opacity="0.44"/>
<rect x="309.1" y="1494.6" width="1.5" height="311" fill="#000" opacity="0.25"/>
<rect x="310.6" y="1494.6" width="15" height="311" fill="#000" opacity="0.28"/>
<rect x="324.1" y="1494.6" width="1.5" height="311" fill="#000" opacity="0.40"/>
<rect x="325.6" y="1658.9" width="7.2" height="146.7" fill="#000" opacity="0.31"/>
<rect x="325.6" y="1658.9" width="1.2" height="146.7" fill="#fff" opacity="0.31"/>
<rect x="331.3" y="1658.9" width="1.5" height="146.7" fill="#000" opacity="0.35"/>
<rect x="332.8" y="1627.3" width="14.2" height="88" fill="#fff" opacity="0.14"/>
<rect x="332.8" y="1627.3" width="1.2" height="88" fill="#fff" opacity="0.36"/>
<rect x="345.5" y="1627.3" width="1.5" height="88" fill="#000" opacity="0.26"/>
<rect x="347" y="1494.6" width="9.6" height="307.1" fill="#000" opacity="0.15"/>
<rect x="347" y="1494.6" width="1.2" height="307.1" fill="#fff" opacity="0.23"/>
<rect x="355" y="1494.6" width="1.5" height="307.1" fill="#000" opacity="0.46"/>
<rect x="356.5" y="1494.6" width="5.5" height="311" fill="#000" opacity="0.16"/>
<rect x="356.5" y="1494.6" width="1.2" height="311" fill="#fff" opacity="0.48"/>
<rect x="360.5" y="1494.6" width="1.5" height="311" fill="#000" opacity="0.24"/>
<rect x="362" y="1494.6" width="10" height="311" fill="#fff" opacity="0.35"/>
<rect x="362" y="1494.6" width="1.2" height="311" fill="#fff" opacity="0.42"/>
<rect x="372" y="1494.6" width="11.9" height="302" fill="#fff" opacity="0.05"/>
<rect x="372" y="1494.6" width="1.2" height="302" fill="#fff" opacity="0.27"/>
<rect x="383.9" y="1494.6" width="7" height="311" fill="#fff" opacity="0.21"/>
<rect x="383.9" y="1494.6" width="1.2" height="311" fill="#fff" opacity="0.32"/>
<rect x="401.6" y="1494.6" width="6" height="311" fill="#fff" opacity="0.27"/>
<rect x="401.6" y="1494.6" width="1.2" height="311" fill="#fff" opacity="0.52"/>
<rect x="407.6" y="1643.3" width="11.3" height="101.4" fill="#000" opacity="0.12"/>
<rect x="407.6" y="1643.3" width="1.2" height="101.4" fill="#fff" opacity="0.27"/>
<rect x="418.8" y="1494.6" width="14" height="306.8" fill="#000" opacity="0.19"/>
<rect x="16.9" y="1494.6" width="415.4" height="311" filter="url(#tx0)"/>
<g filter="url(#sf2)">
<ellipse cx="137" cy="1604" rx="34" ry="38" fill="#b8b8b8" opacity="0.6"/>
<rect x="89.5" y="1528" width="14.5" height="66" fill="#222" opacity="0.85"/>
<rect x="92.5" y="1656" width="6" height="150" fill="#333" opacity="0.6"/>
<rect x="414" y="1545" width="19" height="96" fill="#2c2c2c" opacity="0.7"/>
<rect x="262.6" y="1576" width="6" height="65" fill="#2a2a2a" opacity="0.6"/>
<rect x="320" y="1626" width="9" height="88" fill="#2a2a2a" opacity="0.6"/>
<rect x="348" y="1494" width="85" height="50" fill="#a0a0a0" opacity="0.4"/>
<rect x="17" y="1494" width="13" height="312" fill="#909090" opacity="0.5"/>
</g>
</g>
<rect x="97.8" y="1494.6" width="249.9" height="49" fill="#231f20"/>
<text x="222.8" y="1531.1" font-size="31.2" font-weight="bold" text-anchor="middle" fill="#fff">GFRP, Virgin</text>
<rect x="359.8" y="1791.1" width="68" height="6" fill="#fff"/>
<g clip-path="url(#semc1)">
<rect x="449.6" y="1494.6" width="415.3" height="311" fill="#686868"/>
<g filter="url(#sb1)">
<rect x="640" y="1560" width="80" height="160" fill="#5d5d5d"/>
<rect x="450" y="1494" width="30" height="312" fill="#747474"/>
</g>
<rect x="449.6" y="1529" width="13.6" height="276.6" fill="#fff" opacity="0.02"/>
<rect x="463.2" y="1494.6" width="12.9" height="162.8" fill="#fff" opacity="0.03"/>
<rect x="476.1" y="1494.6" width="10.9" height="221.6" fill="#fff" opacity="0.21"/>
<rect x="476.1" y="1494.6" width="1.2" height="221.6" fill="#fff" opacity="0.27"/>
<rect x="486.9" y="1639" width="9.8" height="116" fill="#000" opacity="0.11"/>
<rect x="496.8" y="1672.7" width="6.6" height="132.9" fill="#fff" opacity="0.13"/>
<rect x="496.8" y="1672.7" width="1.2" height="132.9" fill="#fff" opacity="0.49"/>
<rect x="503.3" y="1494.6" width="5.9" height="311" fill="#000" opacity="0.04"/>
<rect x="503.3" y="1494.6" width="1.2" height="311" fill="#fff" opacity="0.52"/>
<rect x="509.2" y="1551.9" width="9.2" height="253.7" fill="#000" opacity="0.19"/>
<rect x="518.4" y="1494.6" width="10" height="311" fill="#fff" opacity="0.12"/>
<rect x="528.3" y="1494.6" width="4.9" height="311" fill="#fff" opacity="0.14"/>
<rect x="540.8" y="1494.6" width="1.5" height="311" fill="#000" opacity="0.36"/>
<rect x="542.3" y="1494.6" width="7.5" height="311" fill="#000" opacity="0.07"/>
<rect x="542.3" y="1494.6" width="1.2" height="311" fill="#fff" opacity="0.48"/>
<rect x="549.8" y="1494.6" width="6" height="311" fill="#fff" opacity="0.12"/>
<rect x="549.8" y="1494.6" width="1.2" height="311" fill="#fff" opacity="0.49"/>
<rect x="555.8" y="1494.6" width="8.6" height="311" fill="#fff" opacity="0.10"/>
<rect x="564.4" y="1494.6" width="8.7" height="311" fill="#000" opacity="0.15"/>
<rect x="564.4" y="1494.6" width="1.2" height="311" fill="#fff" opacity="0.47"/>
<rect x="573.2" y="1494.6" width="10.1" height="311" fill="#fff" opacity="0.03"/>
<rect x="573.2" y="1494.6" width="1.2" height="311" fill="#fff" opacity="0.26"/>
<rect x="591.6" y="1528.3" width="5.2" height="277.3" fill="#fff" opacity="0.02"/>
<rect x="591.6" y="1528.3" width="1.2" height="277.3" fill="#fff" opacity="0.36"/>
<rect x="595.3" y="1528.3" width="1.5" height="277.3" fill="#000" opacity="0.30"/>
<rect x="596.8" y="1650.3" width="11.3" height="155.3" fill="#fff" opacity="0.11"/>
<rect x="596.8" y="1650.3" width="1.2" height="155.3" fill="#fff" opacity="0.50"/>
<rect x="606.6" y="1650.3" width="1.5" height="155.3" fill="#000" opacity="0.26"/>
<rect x="608.1" y="1494.6" width="8.9" height="311" fill="#000" opacity="0.19"/>
<rect x="608.1" y="1494.6" width="1.2" height="311" fill="#fff" opacity="0.28"/>
<rect x="615.5" y="1494.6" width="1.5" height="311" fill="#000" opacity="0.22"/>
<rect x="617" y="1494.6" width="10.7" height="233.9" fill="#fff" opacity="0.17"/>
<rect x="617" y="1494.6" width="1.2" height="233.9" fill="#fff" opacity="0.37"/>
<rect x="627.7" y="1495.4" width="4.4" height="310.2" fill="#000" opacity="0.04"/>
<rect x="632.1" y="1494.6" width="1.2" height="311" fill="#fff" opacity="0.50"/>
<rect x="638.4" y="1494.6" width="4.1" height="287.7" fill="#000" opacity="0.16"/>
<rect x="638.4" y="1494.6" width="1.2" height="287.7" fill="#fff" opacity="0.33"/>
<rect x="642.5" y="1494.6" width="9.1" height="311" fill="#fff" opacity="0.15"/>
<rect x="642.5" y="1494.6" width="1.2" height="311" fill="#fff" opacity="0.49"/>
<rect x="651.7" y="1494.6" width="11" height="311" fill="#fff" opacity="0.17"/>
<rect x="662.6" y="1494.6" width="7.9" height="311" fill="#000" opacity="0.37"/>
<rect x="662.6" y="1494.6" width="1.2" height="311" fill="#fff" opacity="0.22"/>
<rect x="670.5" y="1494.6" width="6.4" height="311" fill="#000" opacity="0.40"/>
<rect x="676.8" y="1498.7" width="9.3" height="239.6" fill="#000" opacity="0.04"/>
<rect x="686.1" y="1494.6" width="5" height="291.3" fill="#fff" opacity="0.09"/>
<rect x="686.1" y="1494.6" width="1.2" height="291.3" fill="#fff" opacity="0.42"/>
<rect x="691.1" y="1670.3" width="7.3" height="135.3" fill="#fff" opacity="0.04"/>
<rect x="698.4" y="1494.6" width="10.5" height="311" fill="#000" opacity="0.05"/>
<rect x="709" y="1494.6" width="4.2" height="311" fill="#fff" opacity="0.11"/>
<rect x="709" y="1494.6" width="1.2" height="311" fill="#fff" opacity="0.32"/>
<rect x="711.7" y="1494.6" width="1.5" height="311" fill="#000" opacity="0.34"/>
<rect x="713.2" y="1494.6" width="8.1" height="311" fill="#000" opacity="0.17"/>
<rect x="721.3" y="1494.6" width="7.7" height="205.2" fill="#fff" opacity="0.22"/>
<rect x="721.3" y="1494.6" width="1.2" height="205.2" fill="#fff" opacity="0.24"/>
<rect x="727.6" y="1494.6" width="1.5" height="205.2" fill="#000" opacity="0.29"/>
<rect x="729.1" y="1515.7" width="5.4" height="289.9" fill="#fff" opacity="0.46"/>
<rect x="734.5" y="1494.6" width="4.7" height="311" fill="#fff" opacity="0.15"/>
<rect x="739.2" y="1494.6" width="8.6" height="239.3" fill="#000" opacity="0.03"/>
<rect x="739.2" y="1494.6" width="1.2" height="239.3" fill="#fff" opacity="0.30"/>
<rect x="746.3" y="1494.6" width="1.5" height="239.3" fill="#000" opacity="0.22"/>
<rect x="747.8" y="1494.6" width="5.5" height="140.6" fill="#000" opacity="0.03"/>
<rect x="747.8" y="1494.6" width="1.2" height="140.6" fill="#fff" opacity="0.42"/>
<rect x="753.3" y="1494.6" width="4.2" height="311" fill="#fff" opacity="0.18"/>
<rect x="757.5" y="1494.6" width="7.4" height="311" fill="#000" opacity="0.10"/>
<rect x="757.5" y="1494.6" width="1.2" height="311" fill="#fff" opacity="0.34"/>
<rect x="764.9" y="1640.6" width="9.6" height="165" fill="#fff" opacity="0.05"/>
<rect x="764.9" y="1640.6" width="1.2" height="165" fill="#fff" opacity="0.44"/>
<rect x="774.4" y="1494.6" width="10" height="311" fill="#000" opacity="0.11"/>
<rect x="774.4" y="1494.6" width="1.2" height="311" fill="#fff" opacity="0.48"/>
<rect x="784.5" y="1494.6" width="13.8" height="311" fill="#000" opacity="0.09"/>
<rect x="796.8" y="1494.6" width="1.5" height="311" fill="#000" opacity="0.38"/>
<rect x="798.3" y="1518.3" width="7.1" height="287.3" fill="#000" opacity="0.05"/>
<rect x="803.8" y="1518.3" width="1.5" height="287.3" fill="#000" opacity="0.24"/>
<rect x="805.3" y="1494.6" width="7.7" height="311" fill="#000" opacity="0.07"/>
<rect x="811.6" y="1494.6" width="1.5" height="311" fill="#000" opacity="0.48"/>
<rect x="813.1" y="1494.6" width="9.1" height="311" fill="#000" opacity="0.09"/>
<rect x="813.1" y="1494.6" width="1.2" height="311" fill="#fff" opacity="0.37"/>
<rect x="820.6" y="1494.6" width="1.5" height="311" fill="#000" opacity="0.23"/>
<rect x="829.7" y="1494.6" width="1.5" height="311" fill="#000" opacity="0.25"/>
<rect x="831.2" y="1494.6" width="12.6" height="311" fill="#fff" opacity="0.16"/>
<rect x="831.2" y="1494.6" width="1.2" height="311" fill="#fff" opacity="0.49"/>
<rect x="843.7" y="1494.6" width="13.2" height="311" fill="#000" opacity="0.10"/>
<rect x="843.7" y="1494.6" width="1.2" height="311" fill="#fff" opacity="0.48"/>
<rect x="857" y="1494.6" width="4.4" height="311" fill="#000" opacity="0.10"/>
<rect x="857" y="1494.6" width="1.2" height="311" fill="#fff" opacity="0.52"/>
<rect x="861.4" y="1494.6" width="9.1" height="311" fill="#fff" opacity="0.19"/>
<rect x="449.6" y="1494.6" width="415.3" height="311" filter="url(#tx1)"/>
<g filter="url(#sf2)">
<rect x="450" y="1580" width="18" height="130" fill="#b0b0b0" opacity="0.6"/>
<rect x="615" y="1545" width="85" height="155" fill="#5e5e5e" opacity="0.45"/>
<ellipse cx="828" cy="1640" rx="8" ry="20" fill="#d8d8d8" opacity="0.7"/>
</g>
</g>
<rect x="571.7" y="1494.6" width="166.3" height="49" fill="#231f20"/>
<text x="654.9" y="1531.1" font-size="31.2" font-weight="bold" text-anchor="middle" fill="#fff">5 Heals</text>
<rect x="792.4" y="1791.1" width="68" height="6" fill="#fff"/>
<g clip-path="url(#semc2)">
<rect x="880.2" y="1494.6" width="415.8" height="311" fill="#666666"/>
<g filter="url(#sb2)">
<rect x="880" y="1494" width="30" height="312" fill="#585858"/>
<rect x="1200" y="1700" width="90" height="100" fill="#606060"/>
</g>
<rect x="880.2" y="1494.6" width="12.4" height="311" fill="#000" opacity="0.16"/>
<rect x="892.6" y="1494.6" width="7.4" height="311" fill="#000" opacity="0.18"/>
<rect x="900" y="1494.6" width="11.9" height="311" fill="#000" opacity="0.30"/>
<rect x="900" y="1494.6" width="1.2" height="311" fill="#fff" opacity="0.37"/>
<rect x="910.4" y="1494.6" width="1.5" height="311" fill="#000" opacity="0.38"/>
<rect x="911.9" y="1494.6" width="14.6" height="295.3" fill="#fff" opacity="0.11"/>
<rect x="926.5" y="1494.6" width="6.5" height="311" fill="#fff" opacity="0.35"/>
<rect x="933" y="1494.6" width="6.6" height="311" fill="#fff" opacity="0.13"/>
<rect x="933" y="1494.6" width="1.2" height="311" fill="#fff" opacity="0.20"/>
<rect x="939.6" y="1494.6" width="9" height="311" fill="#000" opacity="0.07"/>
<rect x="948.6" y="1494.6" width="12.3" height="311" fill="#fff" opacity="0.05"/>
<rect x="948.6" y="1494.6" width="1.2" height="311" fill="#fff" opacity="0.31"/>
<rect x="959.3" y="1494.6" width="1.5" height="311" fill="#000" opacity="0.28"/>
<rect x="960.8" y="1494.6" width="7.6" height="311" fill="#fff" opacity="0.07"/>
<rect x="960.8" y="1494.6" width="1.2" height="311" fill="#fff" opacity="0.39"/>
<rect x="968.5" y="1494.6" width="9" height="311" fill="#fff" opacity="0.18"/>
<rect x="968.5" y="1494.6" width="1.2" height="311" fill="#fff" opacity="0.47"/>
<rect x="976" y="1494.6" width="1.5" height="311" fill="#000" opacity="0.46"/>
<rect x="977.5" y="1494.6" width="5.2" height="246.1" fill="#000" opacity="0.14"/>
<rect x="977.5" y="1494.6" width="1.2" height="246.1" fill="#fff" opacity="0.37"/>
<rect x="982.7" y="1494.6" width="5.4" height="311" fill="#000" opacity="0.04"/>
<rect x="988.1" y="1674.1" width="10.5" height="131.5" fill="#000" opacity="0.10"/>
<rect x="988.1" y="1674.1" width="1.2" height="131.5" fill="#fff" opacity="0.34"/>
<rect x="1007.8" y="1649.7" width="8.7" height="155.9" fill="#000" opacity="0.16"/>
<rect x="1016.5" y="1604.1" width="16.3" height="201.5" fill="#000" opacity="0.16"/>
<rect x="1045.7" y="1494.6" width="1.5" height="311" fill="#000" opacity="0.26"/>
<rect x="1047.2" y="1494.6" width="17.4" height="261.4" fill="#fff" opacity="0.06"/>
<rect x="1064.6" y="1494.6" width="13.8" height="270.5" fill="#fff" opacity="0.31"/>
<rect x="1064.6" y="1494.6" width="1.2" height="270.5" fill="#fff" opacity="0.21"/>
<rect x="1076.9" y="1494.6" width="1.5" height="270.5" fill="#000" opacity="0.43"/>
<rect x="1078.4" y="1494.6" width="1.2" height="311" fill="#fff" opacity="0.48"/>
<rect x="1093.7" y="1497.7" width="16.3" height="307.9" fill="#fff" opacity="0.22"/>
<rect x="1110" y="1494.6" width="9.2" height="311" fill="#000" opacity="0.04"/>
<rect x="1110" y="1494.6" width="1.2" height="311" fill="#fff" opacity="0.37"/>
<rect x="1119.2" y="1494.6" width="7.6" height="311" fill="#fff" opacity="0.08"/>
<rect x="1119.2" y="1494.6" width="1.2" height="311" fill="#fff" opacity="0.25"/>
<rect x="1126.8" y="1494.6" width="12.1" height="311" fill="#fff" opacity="0.04"/>
<rect x="1126.8" y="1494.6" width="1.2" height="311" fill="#fff" opacity="0.21"/>
<rect x="1137.4" y="1494.6" width="1.5" height="311" fill="#000" opacity="0.30"/>
<rect x="1138.9" y="1496.2" width="1.2" height="309.4" fill="#fff" opacity="0.30"/>
<rect x="1148.6" y="1494.6" width="7.9" height="311" fill="#fff" opacity="0.11"/>
<rect x="1156.5" y="1556.4" width="6.5" height="82" fill="#fff" opacity="0.19"/>
<rect x="1156.5" y="1556.4" width="1.2" height="82" fill="#fff" opacity="0.48"/>
<rect x="1163" y="1494.6" width="15.3" height="110.2" fill="#000" opacity="0.03"/>
<rect x="1176.8" y="1494.6" width="1.5" height="110.2" fill="#000" opacity="0.26"/>
<rect x="1178.3" y="1494.6" width="16.5" height="311" fill="#000" opacity="0.22"/>
<rect x="1194.8" y="1494.6" width="8" height="267.7" fill="#fff" opacity="0.10"/>
<rect x="1194.8" y="1494.6" width="1.2" height="267.7" fill="#fff" opacity="0.34"/>
<rect x="1201.3" y="1494.6" width="1.5" height="267.7" fill="#000" opacity="0.43"/>
<rect x="1202.8" y="1494.6" width="1.2" height="311" fill="#fff" opacity="0.26"/>
<rect x="1209.9" y="1494.6" width="14.9" height="311" fill="#fff" opacity="0.03"/>
<rect x="1224.8" y="1679.8" width="16.9" height="84.5" fill="#000" opacity="0.05"/>
<rect x="1224.8" y="1679.8" width="1.2" height="84.5" fill="#fff" opacity="0.41"/>
<rect x="1241.7" y="1494.6" width="17.9" height="311" fill="#000" opacity="0.02"/>
<rect x="1241.7" y="1494.6" width="1.2" height="311" fill="#fff" opacity="0.39"/>
<rect x="1259.6" y="1494.6" width="8.7" height="311" fill="#000" opacity="0.28"/>
<rect x="1259.6" y="1494.6" width="1.2" height="311" fill="#fff" opacity="0.50"/>
<rect x="1268.3" y="1658" width="15.8" height="64.4" fill="#fff" opacity="0.08"/>
<rect x="1268.3" y="1658" width="1.2" height="64.4" fill="#fff" opacity="0.49"/>
<rect x="1284" y="1494.6" width="12.8" height="311" fill="#fff" opacity="0.21"/>
<rect x="1284" y="1494.6" width="1.2" height="311" fill="#fff" opacity="0.31"/>
<rect x="880.2" y="1494.6" width="415.8" height="311" filter="url(#tx2)"/>
<g filter="url(#sf2)">
<rect x="880" y="1520" width="20" height="80" fill="#3a3a3a" opacity="0.6"/>
<rect x="880" y="1690" width="50" height="116" fill="#909090" opacity="0.45"/>
</g>
</g>
<rect x="1002.8" y="1494.6" width="167.3" height="49" fill="#231f20"/>
<text x="1086.4" y="1531.1" font-size="31.2" font-weight="bold" text-anchor="middle" fill="#fff">10 Heals</text>
<rect x="1223.5" y="1791.1" width="68" height="6" fill="#fff"/>
<g clip-path="url(#semc3)">
<rect x="1313" y="1494.6" width="415.8" height="311" fill="#686868"/>
<g filter="url(#sb3)">
<rect x="1313" y="1494" width="100" height="312" fill="#4a4a4a"/>
<rect x="1313" y="1760" width="100" height="46" fill="#383838"/>
<rect x="1413" y="1494" width="20" height="312" fill="#585858"/>
</g>
<rect x="1313" y="1494.6" width="9.5" height="311" fill="#000" opacity="0.25"/>
<rect x="1313" y="1494.6" width="1.2" height="311" fill="#fff" opacity="0.24"/>
<rect x="1321" y="1494.6" width="1.5" height="311" fill="#000" opacity="0.25"/>
<rect x="1322.5" y="1624" width="10.7" height="181.6" fill="#000" opacity="0.07"/>
<rect x="1322.5" y="1624" width="1.2" height="181.6" fill="#fff" opacity="0.44"/>
<rect x="1333.1" y="1494.6" width="5.8" height="311" fill="#fff" opacity="0.10"/>
<rect x="1333.1" y="1494.6" width="1.2" height="311" fill="#fff" opacity="0.54"/>
<rect x="1337.5" y="1494.6" width="1.5" height="311" fill="#000" opacity="0.39"/>
<rect x="1339" y="1494.6" width="15.7" height="311" fill="#000" opacity="0.15"/>
<rect x="1339" y="1494.6" width="1.2" height="311" fill="#fff" opacity="0.52"/>
<rect x="1353.1" y="1494.6" width="1.5" height="311" fill="#000" opacity="0.28"/>
<rect x="1354.6" y="1576" width="7.7" height="229.6" fill="#fff" opacity="0.19"/>
<rect x="1362.3" y="1494.6" width="12.2" height="230.6" fill="#fff" opacity="0.06"/>
<rect x="1374.5" y="1494.6" width="7.6" height="311" fill="#000" opacity="0.23"/>
<rect x="1382.1" y="1494.6" width="5.5" height="311" fill="#fff" opacity="0.06"/>
<rect x="1382.1" y="1494.6" width="1.2" height="311" fill="#fff" opacity="0.46"/>
<rect x="1387.6" y="1494.6" width="11" height="311" fill="#fff" opacity="0.12"/>
<rect x="1387.6" y="1494.6" width="1.2" height="311" fill="#fff" opacity="0.49"/>
<rect x="1402.7" y="1494.6" width="1.5" height="311" fill="#000" opacity="0.25"/>
<rect x="1404.2" y="1494.6" width="12.1" height="311" fill="#fff" opacity="0.09"/>
<rect x="1404.2" y="1494.6" width="1.2" height="311" fill="#fff" opacity="0.20"/>
<rect x="1416.3" y="1494.6" width="12.6" height="311" fill="#000" opacity="0.16"/>
<rect x="1428.8" y="1494.6" width="8.1" height="311" fill="#fff" opacity="0.10"/>
<rect x="1436.9" y="1494.6" width="11" height="311" fill="#000" opacity="0.02"/>
<rect x="1436.9" y="1494.6" width="1.2" height="311" fill="#fff" opacity="0.34"/>
<rect x="1447.9" y="1617.3" width="15.4" height="188.3" fill="#fff" opacity="0.09"/>
<rect x="1447.9" y="1617.3" width="1.2" height="188.3" fill="#fff" opacity="0.43"/>
<rect x="1463.3" y="1638.4" width="5.9" height="167.2" fill="#fff" opacity="0.04"/>
<rect x="1469.2" y="1494.6" width="7.7" height="311" fill="#000" opacity="0.05"/>
<rect x="1469.2" y="1494.6" width="1.2" height="311" fill="#fff" opacity="0.25"/>
<rect x="1476.9" y="1494.6" width="7.8" height="311" fill="#000" opacity="0.16"/>
<rect x="1484.7" y="1494.6" width="8.6" height="297.5" fill="#000" opacity="0.29"/>
<rect x="1493.2" y="1633.1" width="1.2" height="172.5" fill="#fff" opacity="0.28"/>
<rect x="1502.4" y="1494.6" width="13.1" height="311" fill="#fff" opacity="0.11"/>
<rect x="1502.4" y="1494.6" width="1.2" height="311" fill="#fff" opacity="0.27"/>
<rect x="1514" y="1494.6" width="1.5" height="311" fill="#000" opacity="0.24"/>
<rect x="1515.5" y="1494.6" width="1.2" height="311" fill="#fff" opacity="0.24"/>
<rect x="1524.8" y="1494.6" width="12" height="311" fill="#000" opacity="0.09"/>
<rect x="1524.8" y="1494.6" width="1.2" height="311" fill="#fff" opacity="0.43"/>
<rect x="1536.8" y="1516.5" width="5.2" height="289.1" fill="#000" opacity="0.18"/>
<rect x="1536.8" y="1516.5" width="1.2" height="289.1" fill="#fff" opacity="0.40"/>
<rect x="1542" y="1660.2" width="15.2" height="68.9" fill="#fff" opacity="0.08"/>
<rect x="1542" y="1660.2" width="1.2" height="68.9" fill="#fff" opacity="0.25"/>
<rect x="1557.1" y="1617.7" width="9.5" height="187.9" fill="#fff" opacity="0.12"/>
<rect x="1557.1" y="1617.7" width="1.2" height="187.9" fill="#fff" opacity="0.36"/>
<rect x="1566.6" y="1587.2" width="10.2" height="218.4" fill="#fff" opacity="0.05"/>
<rect x="1566.6" y="1587.2" width="1.2" height="218.4" fill="#fff" opacity="0.48"/>
<rect x="1576.8" y="1584.2" width="7.1" height="221.4" fill="#000" opacity="0.20"/>
<rect x="1576.8" y="1584.2" width="1.2" height="221.4" fill="#fff" opacity="0.21"/>
<rect x="1582.4" y="1584.2" width="1.5" height="221.4" fill="#000" opacity="0.33"/>
<rect x="1583.9" y="1494.6" width="5.4" height="311" fill="#000" opacity="0.05"/>
<rect x="1589.3" y="1494.6" width="6.9" height="311" fill="#fff" opacity="0.31"/>
<rect x="1589.3" y="1494.6" width="1.2" height="311" fill="#fff" opacity="0.45"/>
<rect x="1613.7" y="1494.6" width="15.4" height="311" fill="#fff" opacity="0.12"/>
<rect x="1629" y="1504.4" width="8.9" height="301.2" fill="#fff" opacity="0.06"/>
<rect x="1638" y="1494.6" width="14.2" height="311" fill="#000" opacity="0.32"/>
<rect x="1657.5" y="1494.6" width="6.2" height="311" fill="#fff" opacity="0.07"/>
<rect x="1657.5" y="1494.6" width="1.2" height="311" fill="#fff" opacity="0.44"/>
<rect x="1663.7" y="1494.6" width="15.2" height="311" fill="#000" opacity="0.22"/>
<rect x="1678.9" y="1533.4" width="10.9" height="272.2" fill="#fff" opacity="0.12"/>
<rect x="1678.9" y="1533.4" width="1.2" height="272.2" fill="#fff" opacity="0.28"/>
<rect x="1689.8" y="1494.6" width="10.9" height="311" fill="#fff" opacity="0.10"/>
<rect x="1699.2" y="1494.6" width="1.5" height="311" fill="#000" opacity="0.26"/>
<rect x="1700.7" y="1494.6" width="5.2" height="311" fill="#000" opacity="0.04"/>
<rect x="1700.7" y="1494.6" width="1.2" height="311" fill="#fff" opacity="0.40"/>
<rect x="1705.8" y="1494.6" width="9.6" height="311" fill="#000" opacity="0.13"/>
<rect x="1705.8" y="1494.6" width="1.2" height="311" fill="#fff" opacity="0.42"/>
<rect x="1715.4" y="1627.7" width="11.5" height="177.9" fill="#fff" opacity="0.02"/>
<rect x="1726.9" y="1494.6" width="13.1" height="311" fill="#fff" opacity="0.03"/>
<rect x="1313" y="1494.6" width="415.8" height="311" filter="url(#tx3)"/>
<path d="M1313,1494 L1418,1494 L1425,1806 L1313,1806 Z" fill="#4c4c4c" opacity="0.88"/>
<path d="M1313,1760 L1420,1760 L1422,1806 L1313,1806 Z" fill="#3c3c3c" opacity="0.8"/>
<ellipse cx="1372" cy="1775" rx="22" ry="9" fill="#d0d0d0" opacity="0.9"/>
<path d="M1330,1494 V1806 M1345,1494 V1806 M1400,1494 V1806" stroke="#6a6a6a" stroke-width="2" opacity="0.6"/>
</g>
<rect x="1435.2" y="1494.6" width="166.7" height="49" fill="#231f20"/>
<text x="1518.6" y="1531.1" font-size="31.2" font-weight="bold" text-anchor="middle" fill="#fff">20 Heals</text>
<rect x="1656.3" y="1791.1" width="68" height="6" fill="#fff"/>
<g clip-path="url(#semc4)">
<rect x="16.9" y="1821.9" width="416.4" height="312.1" fill="#5a5a5a"/>
<g filter="url(#sb4)">
<rect x="17" y="1822" width="60" height="312" fill="#606060"/>
<rect x="300" y="2080" width="90" height="54" fill="#6a6a6a"/>
</g>
<rect x="16.9" y="1821.9" width="3.3" height="256.9" fill="#fff" opacity="0.09"/>
<rect x="16.9" y="1821.9" width="1.2" height="256.9" fill="#fff" opacity="0.32"/>
<rect x="20.2" y="1821.9" width="5.9" height="312.1" fill="#000" opacity="0.03"/>
<rect x="20.2" y="1821.9" width="1.2" height="312.1" fill="#fff" opacity="0.34"/>
<rect x="26.1" y="1821.9" width="4.3" height="312.1" fill="#000" opacity="0.23"/>
<rect x="26.1" y="1821.9" width="1.2" height="312.1" fill="#fff" opacity="0.45"/>
<rect x="30.4" y="1821.9" width="5.5" height="312.1" fill="#000" opacity="0.05"/>
<rect x="30.4" y="1821.9" width="1.2" height="312.1" fill="#fff" opacity="0.46"/>
<rect x="34.4" y="1821.9" width="1.5" height="312.1" fill="#000" opacity="0.43"/>
<rect x="35.9" y="1821.9" width="4.2" height="161.5" fill="#000" opacity="0.11"/>
<rect x="35.9" y="1821.9" width="1.2" height="161.5" fill="#fff" opacity="0.27"/>
<rect x="40.1" y="1821.9" width="5.5" height="312.1" fill="#fff" opacity="0.30"/>
<rect x="40.1" y="1821.9" width="1.2" height="312.1" fill="#fff" opacity="0.31"/>
<rect x="44.1" y="1821.9" width="1.5" height="312.1" fill="#000" opacity="0.41"/>
<rect x="45.6" y="1821.9" width="4.2" height="288.2" fill="#000" opacity="0.23"/>
<rect x="45.6" y="1821.9" width="1.2" height="288.2" fill="#fff" opacity="0.49"/>
<rect x="49.9" y="1821.9" width="3.9" height="312.1" fill="#fff" opacity="0.04"/>
<rect x="49.9" y="1821.9" width="1.2" height="312.1" fill="#fff" opacity="0.36"/>
<rect x="53.8" y="1821.9" width="4.4" height="312.1" fill="#000" opacity="0.08"/>
<rect x="53.8" y="1821.9" width="1.2" height="312.1" fill="#fff" opacity="0.26"/>
<rect x="56.7" y="1821.9" width="1.5" height="312.1" fill="#000" opacity="0.49"/>
<rect x="58.2" y="1821.9" width="5.4" height="312.1" fill="#000" opacity="0.03"/>
<rect x="58.2" y="1821.9" width="1.2" height="312.1" fill="#fff" opacity="0.45"/>
<rect x="63.6" y="1821.9" width="4.9" height="312.1" fill="#fff" opacity="0.26"/>
<rect x="63.6" y="1821.9" width="1.2" height="312.1" fill="#fff" opacity="0.53"/>
<rect x="68.5" y="1821.9" width="4.9" height="147.8" fill="#fff" opacity="0.06"/>
<rect x="68.5" y="1821.9" width="1.2" height="147.8" fill="#fff" opacity="0.44"/>
<rect x="73.5" y="1926.5" width="1.2" height="207.5" fill="#fff" opacity="0.37"/>
<rect x="80.5" y="1821.9" width="1.5" height="312.1" fill="#000" opacity="0.35"/>
<rect x="82" y="1821.9" width="5.1" height="138.4" fill="#fff" opacity="0.06"/>
<rect x="82" y="1821.9" width="1.2" height="138.4" fill="#fff" opacity="0.33"/>
<rect x="85.7" y="1821.9" width="1.5" height="138.4" fill="#000" opacity="0.33"/>
<rect x="87.2" y="1821.9" width="4.3" height="164.7" fill="#fff" opacity="0.30"/>
<rect x="87.2" y="1821.9" width="1.2" height="164.7" fill="#fff" opacity="0.46"/>
<rect x="94.5" y="1925.7" width="5.6" height="208.3" fill="#000" opacity="0.27"/>
<rect x="100.1" y="1821.9" width="4.5" height="312.1" fill="#fff" opacity="0.14"/>
<rect x="100.1" y="1821.9" width="1.2" height="312.1" fill="#fff" opacity="0.52"/>
<rect x="104.6" y="1821.9" width="3.8" height="312.1" fill="#fff" opacity="0.08"/>
<rect x="104.6" y="1821.9" width="1.2" height="312.1" fill="#fff" opacity="0.30"/>
<rect x="108.4" y="1821.9" width="6" height="312.1" fill="#000" opacity="0.12"/>
<rect x="108.4" y="1821.9" width="1.2" height="312.1" fill="#fff" opacity="0.54"/>
<rect x="114.4" y="1821.9" width="4.8" height="312.1" fill="#000" opacity="0.17"/>
<rect x="119.2" y="1839.2" width="3.2" height="249.3" fill="#fff" opacity="0.29"/>
<rect x="119.2" y="1839.2" width="1.2" height="249.3" fill="#fff" opacity="0.23"/>
<rect x="122.4" y="1821.9" width="3.2" height="180.2" fill="#000" opacity="0.17"/>
<rect x="122.4" y="1821.9" width="1.2" height="180.2" fill="#fff" opacity="0.35"/>
<rect x="124.1" y="1821.9" width="1.5" height="180.2" fill="#000" opacity="0.22"/>
<rect x="125.6" y="1821.9" width="4.7" height="312.1" fill="#fff" opacity="0.22"/>
<rect x="128.8" y="1821.9" width="1.5" height="312.1" fill="#000" opacity="0.43"/>
<rect x="130.3" y="1938.8" width="5.8" height="195.2" fill="#000" opacity="0.48"/>
<rect x="134.6" y="1938.8" width="1.5" height="195.2" fill="#000" opacity="0.30"/>
<rect x="136.1" y="1957.5" width="5.2" height="176.5" fill="#000" opacity="0.29"/>
<rect x="141.3" y="1821.9" width="3.3" height="280" fill="#fff" opacity="0.04"/>
<rect x="144.6" y="1945.6" width="3.8" height="86.9" fill="#fff" opacity="0.26"/>
<rect x="146.9" y="1945.6" width="1.5" height="86.9" fill="#000" opacity="0.30"/>
<rect x="148.4" y="1821.9" width="4.3" height="231.3" fill="#000" opacity="0.03"/>
<rect x="148.4" y="1821.9" width="1.2" height="231.3" fill="#fff" opacity="0.48"/>
<rect x="152.7" y="1821.9" width="5.5" height="312.1" fill="#fff" opacity="0.27"/>
<rect x="152.7" y="1821.9" width="1.2" height="312.1" fill="#fff" opacity="0.33"/>
<rect x="158.2" y="1821.9" width="5.2" height="312.1" fill="#000" opacity="0.12"/>
<rect x="158.2" y="1821.9" width="1.2" height="312.1" fill="#fff" opacity="0.27"/>
<rect x="163.4" y="1821.9" width="6" height="312.1" fill="#000" opacity="0.03"/>
<rect x="163.4" y="1821.9" width="1.2" height="312.1" fill="#fff" opacity="0.55"/>
<rect x="167.9" y="1821.9" width="1.5" height="312.1" fill="#000" opacity="0.49"/>
<rect x="169.4" y="1996.5" width="3.9" height="137.5" fill="#fff" opacity="0.06"/>
<rect x="169.4" y="1996.5" width="1.2" height="137.5" fill="#fff" opacity="0.42"/>
<rect x="173.4" y="1821.9" width="4.9" height="312.1" fill="#fff" opacity="0.20"/>
<rect x="173.4" y="1821.9" width="1.2" height="312.1" fill="#fff" opacity="0.21"/>
<rect x="178.3" y="1821.9" width="3.4" height="312.1" fill="#fff" opacity="0.25"/>
<rect x="181.7" y="1965.2" width="3.7" height="82.6" fill="#000" opacity="0.12"/>
<rect x="185.3" y="1821.9" width="3.8" height="312.1" fill="#000" opacity="0.12"/>
<rect x="187.6" y="1821.9" width="1.5" height="312.1" fill="#000" opacity="0.23"/>
<rect x="189.1" y="1853.1" width="4.8" height="141.3" fill="#000" opacity="0.27"/>
<rect x="192.4" y="1853.1" width="1.5" height="141.3" fill="#000" opacity="0.43"/>
<rect x="193.9" y="1821.9" width="4.1" height="260.5" fill="#000" opacity="0.05"/>
<rect x="202.2" y="1821.9" width="5.4" height="180.6" fill="#fff" opacity="0.32"/>
<rect x="202.2" y="1821.9" width="1.2" height="180.6" fill="#fff" opacity="0.49"/>
<rect x="207.6" y="1821.9" width="5.2" height="312.1" fill="#fff" opacity="0.18"/>
<rect x="212.8" y="1821.9" width="4.4" height="312.1" fill="#fff" opacity="0.09"/>
<rect x="212.8" y="1821.9" width="1.2" height="312.1" fill="#fff" opacity="0.27"/>
<rect x="215.7" y="1821.9" width="1.5" height="312.1" fill="#000" opacity="0.39"/>
<rect x="217.2" y="1821.9" width="3.5" height="206.9" fill="#000" opacity="0.10"/>
<rect x="217.2" y="1821.9" width="1.2" height="206.9" fill="#fff" opacity="0.40"/>
<rect x="220.7" y="1821.9" width="4.6" height="312.1" fill="#000" opacity="0.28"/>
<rect x="225.3" y="1821.9" width="3.3" height="267.2" fill="#000" opacity="0.11"/>
<rect x="228.6" y="1821.9" width="5.2" height="312.1" fill="#000" opacity="0.07"/>
<rect x="228.6" y="1821.9" width="1.2" height="312.1" fill="#fff" opacity="0.27"/>
<rect x="233.8" y="1821.9" width="4.9" height="154.1" fill="#fff" opacity="0.12"/>
<rect x="238.7" y="1821.9" width="3.9" height="312.1" fill="#fff" opacity="0.27"/>
<rect x="238.7" y="1821.9" width="1.2" height="312.1" fill="#fff" opacity="0.41"/>
<rect x="242.6" y="1821.9" width="3.1" height="312.1" fill="#000" opacity="0.05"/>
<rect x="242.6" y="1821.9" width="1.2" height="312.1" fill="#fff" opacity="0.27"/>
<rect x="245.7" y="1821.9" width="4.9" height="312.1" fill="#fff" opacity="0.21"/>
<rect x="249.1" y="1821.9" width="1.5" height="312.1" fill="#000" opacity="0.37"/>
<rect x="250.6" y="1918.4" width="1.2" height="215.6" fill="#fff" opacity="0.41"/>
<rect x="252.6" y="1918.4" width="1.5" height="215.6" fill="#000" opacity="0.43"/>
<rect x="254.1" y="1821.9" width="4.8" height="312.1" fill="#fff" opacity="0.11"/>
<rect x="254.1" y="1821.9" width="1.2" height="312.1" fill="#fff" opacity="0.48"/>
<rect x="258.9" y="1821.9" width="4.4" height="312.1" fill="#000" opacity="0.19"/>
<rect x="258.9" y="1821.9" width="1.2" height="312.1" fill="#fff" opacity="0.23"/>
<rect x="263.3" y="1969" width="3.5" height="52.4" fill="#fff" opacity="0.04"/>
<rect x="266.8" y="1940.5" width="5.2" height="193.5" fill="#fff" opacity="0.42"/>
<rect x="266.8" y="1940.5" width="1.2" height="193.5" fill="#fff" opacity="0.49"/>
<rect x="270.5" y="1940.5" width="1.5" height="193.5" fill="#000" opacity="0.38"/>
<rect x="272" y="1821.9" width="5.7" height="312.1" fill="#fff" opacity="0.14"/>
<rect x="276.1" y="1821.9" width="1.5" height="312.1" fill="#000" opacity="0.26"/>
<rect x="277.6" y="1821.9" width="5.4" height="312.1" fill="#fff" opacity="0.09"/>
<rect x="283" y="1926.7" width="3.1" height="207.3" fill="#000" opacity="0.03"/>
<rect x="288.2" y="1821.9" width="1.5" height="312.1" fill="#000" opacity="0.35"/>
<rect x="289.7" y="1821.9" width="5.8" height="312.1" fill="#fff" opacity="0.13"/>
<rect x="295.5" y="1821.9" width="3.3" height="257.2" fill="#fff" opacity="0.14"/>
<rect x="297.4" y="1821.9" width="1.5" height="257.2" fill="#000" opacity="0.47"/>
<rect x="298.9" y="1821.9" width="5.6" height="312.1" fill="#000" opacity="0.32"/>
<rect x="302.9" y="1821.9" width="1.5" height="312.1" fill="#000" opacity="0.30"/>
<rect x="304.4" y="1821.9" width="3.6" height="255.3" fill="#fff" opacity="0.10"/>
<rect x="304.4" y="1821.9" width="1.2" height="255.3" fill="#fff" opacity="0.20"/>
<rect x="308" y="1821.9" width="5.6" height="312.1" fill="#000" opacity="0.11"/>
<rect x="308" y="1821.9" width="1.2" height="312.1" fill="#fff" opacity="0.32"/>
<rect x="313.7" y="1821.9" width="5.3" height="312.1" fill="#fff" opacity="0.05"/>
<rect x="319" y="1821.9" width="3.4" height="278.1" fill="#fff" opacity="0.14"/>
<rect x="320.8" y="1821.9" width="1.5" height="278.1" fill="#000" opacity="0.27"/>
<rect x="322.3" y="1993.1" width="4.6" height="140.9" fill="#000" opacity="0.04"/>
<rect x="326.9" y="1821.9" width="4.8" height="312.1" fill="#000" opacity="0.20"/>
<rect x="326.9" y="1821.9" width="1.2" height="312.1" fill="#fff" opacity="0.38"/>
<rect x="331.7" y="1929.4" width="4" height="159" fill="#000" opacity="0.02"/>
<rect x="334.2" y="1929.4" width="1.5" height="159" fill="#000" opacity="0.48"/>
<rect x="335.7" y="1977.2" width="3.8" height="153.8" fill="#fff" opacity="0.05"/>
<rect x="339.4" y="1821.9" width="3.6" height="312.1" fill="#000" opacity="0.27"/>
<rect x="343.1" y="1821.9" width="3.6" height="312.1" fill="#000" opacity="0.13"/>
<rect x="345.1" y="1821.9" width="1.5" height="312.1" fill="#000" opacity="0.28"/>
<rect x="346.6" y="1952.4" width="1.2" height="71.4" fill="#fff" opacity="0.24"/>
<rect x="352" y="1821.9" width="3.8" height="312.1" fill="#fff" opacity="0.10"/>
<rect x="352" y="1821.9" width="1.2" height="312.1" fill="#fff" opacity="0.28"/>
<rect x="355.8" y="1821.9" width="3.6" height="127.9" fill="#fff" opacity="0.03"/>
<rect x="359.5" y="1821.9" width="3.2" height="312.1" fill="#fff" opacity="0.16"/>
<rect x="359.5" y="1821.9" width="1.2" height="312.1" fill="#fff" opacity="0.52"/>
<rect x="362.7" y="1821.9" width="4.5" height="312.1" fill="#000" opacity="0.32"/>
<rect x="362.7" y="1821.9" width="1.2" height="312.1" fill="#fff" opacity="0.52"/>
<rect x="365.6" y="1821.9" width="1.5" height="312.1" fill="#000" opacity="0.47"/>
<rect x="367.1" y="1821.9" width="1.2" height="312.1" fill="#fff" opacity="0.23"/>
<rect x="372.8" y="1821.9" width="1.2" height="312.1" fill="#fff" opacity="0.36"/>
<rect x="377.5" y="1821.9" width="5.6" height="312.1" fill="#000" opacity="0.09"/>
<rect x="383.1" y="1821.9" width="4.9" height="312.1" fill="#fff" opacity="0.06"/>
<rect x="383.1" y="1821.9" width="1.2" height="312.1" fill="#fff" opacity="0.33"/>
<rect x="388" y="1821.9" width="1.2" height="312.1" fill="#fff" opacity="0.27"/>
<rect x="391.6" y="1935.1" width="1.2" height="116.4" fill="#fff" opacity="0.40"/>
<rect x="396.6" y="1821.9" width="5.3" height="312.1" fill="#fff" opacity="0.30"/>
<rect x="396.6" y="1821.9" width="1.2" height="312.1" fill="#fff" opacity="0.39"/>
<rect x="400.4" y="1821.9" width="1.5" height="312.1" fill="#000" opacity="0.39"/>
<rect x="401.9" y="1843.3" width="1.2" height="272.7" fill="#fff" opacity="0.44"/>
<rect x="407.6" y="1821.9" width="4" height="312.1" fill="#fff" opacity="0.05"/>
<rect x="407.6" y="1821.9" width="1.2" height="312.1" fill="#fff" opacity="0.37"/>
<rect x="410.1" y="1821.9" width="1.5" height="312.1" fill="#000" opacity="0.50"/>
<rect x="411.6" y="1821.9" width="4" height="312.1" fill="#000" opacity="0.32"/>
<rect x="411.6" y="1821.9" width="1.2" height="312.1" fill="#fff" opacity="0.45"/>
<rect x="415.6" y="1821.9" width="5.6" height="312.1" fill="#000" opacity="0.26"/>
<rect x="421.3" y="1970.2" width="5.8" height="76.3" fill="#000" opacity="0.03"/>
<rect x="421.3" y="1970.2" width="1.2" height="76.3" fill="#fff" opacity="0.25"/>
<rect x="425.5" y="1970.2" width="1.5" height="76.3" fill="#000" opacity="0.39"/>
<rect x="427" y="1821.9" width="4.7" height="312.1" fill="#000" opacity="0.06"/>
<rect x="427" y="1821.9" width="1.2" height="312.1" fill="#fff" opacity="0.23"/>
<rect x="431.8" y="1910.1" width="5.2" height="223.9" fill="#000" opacity="0.07"/>
<rect x="431.8" y="1910.1" width="1.2" height="223.9" fill="#fff" opacity="0.48"/>
<rect x="16.9" y="1821.9" width="416.4" height="312.1" filter="url(#tx4)"/>
<g filter="url(#sf2)">
<ellipse cx="101" cy="1899" rx="14" ry="10" fill="#e0e0e0" opacity="0.85"/>
<path d="M302,2092 Q330,2080 360,2095 Q385,2110 400,2134 L385,2134 Q360,2112 330,2104 Q312,2100 302,2092 Z" fill="#c8c8c8" opacity="0.75"/>
<rect x="353" y="1978" width="31" height="109" fill="#2c2c2c" opacity="0.5"/>
</g>
</g>
<rect x="100.4" y="1821.9" width="249.3" height="49" fill="#231f20"/>
<text x="225.1" y="1858.4" font-size="31.2" font-weight="bold" text-anchor="middle" fill="#fff">CFRP, Virgin</text>
<rect x="360.8" y="2116.5" width="68" height="6" fill="#fff"/>
<g clip-path="url(#semc5)">
<rect x="449.6" y="1821.9" width="415.6" height="312.1" fill="#646464"/>
<g filter="url(#sb5)">
<rect x="700" y="1900" width="120" height="150" fill="#6e6e6e"/>
</g>
<rect x="449.6" y="1821.9" width="4.6" height="312.1" fill="#000" opacity="0.10"/>
<rect x="454.2" y="1914.6" width="10" height="219.4" fill="#fff" opacity="0.05"/>
<rect x="454.2" y="1914.6" width="1.2" height="219.4" fill="#fff" opacity="0.47"/>
<rect x="462.6" y="1914.6" width="1.5" height="219.4" fill="#000" opacity="0.31"/>
<rect x="464.1" y="1821.9" width="5.3" height="312.1" fill="#000" opacity="0.02"/>
<rect x="469.5" y="1954.9" width="7" height="179.1" fill="#000" opacity="0.17"/>
<rect x="474.9" y="1954.9" width="1.5" height="179.1" fill="#000" opacity="0.30"/>
<rect x="476.4" y="1821.9" width="7.9" height="305.6" fill="#000" opacity="0.04"/>
<rect x="484.3" y="1821.9" width="7.2" height="312.1" fill="#fff" opacity="0.12"/>
<rect x="484.3" y="1821.9" width="1.2" height="312.1" fill="#fff" opacity="0.24"/>
<rect x="491.5" y="1821.9" width="7.3" height="186.7" fill="#000" opacity="0.11"/>
<rect x="491.5" y="1821.9" width="1.2" height="186.7" fill="#fff" opacity="0.33"/>
<rect x="498.9" y="1856.3" width="11.4" height="240.9" fill="#000" opacity="0.16"/>
<rect x="510.2" y="1821.9" width="11.2" height="312.1" fill="#000" opacity="0.15"/>
<rect x="510.2" y="1821.9" width="1.2" height="312.1" fill="#fff" opacity="0.30"/>
<rect x="521.4" y="1890.6" width="6.7" height="243.4" fill="#000" opacity="0.08"/>
<rect x="521.4" y="1890.6" width="1.2" height="243.4" fill="#fff" opacity="0.26"/>
<rect x="526.6" y="1890.6" width="1.5" height="243.4" fill="#000" opacity="0.40"/>
<rect x="528.1" y="1821.9" width="9.6" height="312.1" fill="#fff" opacity="0.10"/>
<rect x="528.1" y="1821.9" width="1.2" height="312.1" fill="#fff" opacity="0.45"/>
<rect x="537.7" y="1821.9" width="10.6" height="312.1" fill="#fff" opacity="0.22"/>
<rect x="546.8" y="1821.9" width="1.5" height="312.1" fill="#000" opacity="0.43"/>
<rect x="548.3" y="1821.9" width="4.7" height="312.1" fill="#fff" opacity="0.17"/>
<rect x="548.3" y="1821.9" width="1.2" height="312.1" fill="#fff" opacity="0.45"/>
<rect x="551.5" y="1821.9" width="1.5" height="312.1" fill="#000" opacity="0.22"/>
<rect x="553" y="1821.9" width="10" height="312.1" fill="#000" opacity="0.03"/>
<rect x="553" y="1821.9" width="1.2" height="312.1" fill="#fff" opacity="0.25"/>
<rect x="561.5" y="1821.9" width="1.5" height="312.1" fill="#000" opacity="0.22"/>
<rect x="563" y="1978.5" width="4.1" height="155.5" fill="#fff" opacity="0.11"/>
<rect x="563" y="1978.5" width="1.2" height="155.5" fill="#fff" opacity="0.53"/>
<rect x="565.6" y="1978.5" width="1.5" height="155.5" fill="#000" opacity="0.36"/>
<rect x="567.1" y="1821.9" width="8.5" height="312.1" fill="#fff" opacity="0.10"/>
<rect x="574.1" y="1821.9" width="1.5" height="312.1" fill="#000" opacity="0.30"/>
<rect x="575.6" y="1821.9" width="1.2" height="312.1" fill="#fff" opacity="0.33"/>
<rect x="585.2" y="1821.9" width="9.2" height="312.1" fill="#fff" opacity="0.03"/>
<rect x="594.3" y="1821.9" width="8.4" height="182.4" fill="#000" opacity="0.23"/>
<rect x="601.2" y="1821.9" width="1.5" height="182.4" fill="#000" opacity="0.24"/>
<rect x="602.7" y="1821.9" width="6.4" height="142.9" fill="#fff" opacity="0.27"/>
<rect x="602.7" y="1821.9" width="1.2" height="142.9" fill="#fff" opacity="0.51"/>
<rect x="609.1" y="1821.9" width="11.2" height="312.1" fill="#000" opacity="0.06"/>
<rect x="620.3" y="1821.9" width="10.1" height="212.7" fill="#000" opacity="0.24"/>
<rect x="630.4" y="1821.9" width="9.6" height="248.4" fill="#fff" opacity="0.22"/>
<rect x="640.1" y="1921.2" width="8.3" height="130.6" fill="#000" opacity="0.06"/>
<rect x="646.9" y="1921.2" width="1.5" height="130.6" fill="#000" opacity="0.48"/>
<rect x="648.4" y="1948.7" width="5.1" height="185.3" fill="#000" opacity="0.10"/>
<rect x="648.4" y="1948.7" width="1.2" height="185.3" fill="#fff" opacity="0.37"/>
<rect x="653.4" y="1821.9" width="10.9" height="156.8" fill="#fff" opacity="0.07"/>
<rect x="662.9" y="1821.9" width="1.5" height="156.8" fill="#000" opacity="0.21"/>
<rect x="664.4" y="1821.9" width="8.9" height="312.1" fill="#000" opacity="0.08"/>
<rect x="671.8" y="1821.9" width="1.5" height="312.1" fill="#000" opacity="0.29"/>
<rect x="673.3" y="1821.9" width="8.6" height="312.1" fill="#fff" opacity="0.19"/>
<rect x="673.3" y="1821.9" width="1.2" height="312.1" fill="#fff" opacity="0.26"/>
<rect x="681.8" y="1986.5" width="7.1" height="147.5" fill="#fff" opacity="0.08"/>
<rect x="689" y="1934.1" width="11.2" height="199.9" fill="#fff" opacity="0.30"/>
<rect x="700.2" y="1982.6" width="6" height="151.4" fill="#fff" opacity="0.24"/>
<rect x="700.2" y="1982.6" width="1.2" height="151.4" fill="#fff" opacity="0.29"/>
<rect x="706.1" y="1821.9" width="1.2" height="312.1" fill="#fff" opacity="0.32"/>
<rect x="716.2" y="1821.9" width="1.5" height="312.1" fill="#000" opacity="0.39"/>
<rect x="717.7" y="1821.9" width="9" height="312.1" fill="#fff" opacity="0.06"/>
<rect x="726.7" y="1821.9" width="8.9" height="312.1" fill="#000" opacity="0.04"/>
<rect x="726.7" y="1821.9" width="1.2" height="312.1" fill="#fff" opacity="0.44"/>
<rect x="735.6" y="1821.9" width="5.2" height="130.5" fill="#000" opacity="0.11"/>
<rect x="735.6" y="1821.9" width="1.2" height="130.5" fill="#fff" opacity="0.31"/>
<rect x="740.8" y="1821.9" width="4.2" height="312.1" fill="#000" opacity="0.02"/>
<rect x="740.8" y="1821.9" width="1.2" height="312.1" fill="#fff" opacity="0.50"/>
<rect x="743.5" y="1821.9" width="1.5" height="312.1" fill="#000" opacity="0.48"/>
<rect x="745" y="1821.9" width="6.4" height="312.1" fill="#fff" opacity="0.22"/>
<rect x="749.9" y="1821.9" width="1.5" height="312.1" fill="#000" opacity="0.29"/>
<rect x="751.4" y="1821.9" width="10" height="123.2" fill="#000" opacity="0.04"/>
<rect x="751.4" y="1821.9" width="1.2" height="123.2" fill="#fff" opacity="0.53"/>
<rect x="761.4" y="1821.9" width="10.2" height="312.1" fill="#000" opacity="0.10"/>
<rect x="761.4" y="1821.9" width="1.2" height="312.1" fill="#fff" opacity="0.40"/>
<rect x="771.6" y="1954.1" width="11.2" height="125.7" fill="#fff" opacity="0.25"/>
<rect x="782.8" y="1821.9" width="8.1" height="312.1" fill="#000" opacity="0.17"/>
<rect x="782.8" y="1821.9" width="1.2" height="312.1" fill="#fff" opacity="0.29"/>
<rect x="789.4" y="1821.9" width="1.5" height="312.1" fill="#000" opacity="0.41"/>
<rect x="790.9" y="1821.9" width="5.4" height="312.1" fill="#fff" opacity="0.10"/>
<rect x="796.2" y="1821.9" width="5.1" height="312.1" fill="#000" opacity="0.13"/>
<rect x="796.2" y="1821.9" width="1.2" height="312.1" fill="#fff" opacity="0.42"/>
<rect x="801.4" y="1821.9" width="9.3" height="312.1" fill="#000" opacity="0.20"/>
<rect x="801.4" y="1821.9" width="1.2" height="312.1" fill="#fff" opacity="0.23"/>
<rect x="810.6" y="1937.3" width="8.7" height="196.7" fill="#000" opacity="0.12"/>
<rect x="810.6" y="1937.3" width="1.2" height="196.7" fill="#fff" opacity="0.33"/>
<rect x="819.4" y="1821.9" width="8.6" height="312.1" fill="#fff" opacity="0.16"/>
<rect x="827.9" y="1821.9" width="5" height="312.1" fill="#000" opacity="0.05"/>
<rect x="833" y="1821.9" width="9.3" height="166.2" fill="#fff" opacity="0.14"/>
<rect x="833" y="1821.9" width="1.2" height="166.2" fill="#fff" opacity="0.29"/>
<rect x="840.7" y="1821.9" width="1.5" height="166.2" fill="#000" opacity="0.48"/>
<rect x="842.2" y="1821.9" width="4.3" height="312.1" fill="#fff" opacity="0.38"/>
<rect x="846.5" y="1821.9" width="7.1" height="312.1" fill="#000" opacity="0.06"/>
<rect x="846.5" y="1821.9" width="1.2" height="312.1" fill="#fff" opacity="0.51"/>
<rect x="852.2" y="1821.9" width="1.5" height="312.1" fill="#000" opacity="0.22"/>
<rect x="853.7" y="1821.9" width="9.9" height="312.1" fill="#000" opacity="0.09"/>
<rect x="862.1" y="1821.9" width="1.5" height="312.1" fill="#000" opacity="0.26"/>
<rect x="863.6" y="1861.9" width="6.2" height="272.1" fill="#000" opacity="0.21"/>
<rect x="863.6" y="1861.9" width="1.2" height="272.1" fill="#fff" opacity="0.38"/>
<rect x="449.6" y="1821.9" width="415.6" height="312.1" filter="url(#tx5)"/>
<g filter="url(#sf2)">
<rect x="595.5" y="1870" width="21.5" height="264" fill="#4a4a4a" opacity="0.45"/>
<rect x="504" y="1900" width="17" height="234" fill="#4a4a4a" opacity="0.35"/>
<ellipse cx="835" cy="1987" rx="22" ry="60" fill="#c0c0c0" opacity="0.5"/>
<rect x="449" y="1822" width="10" height="312" fill="#505050" opacity="0.5"/>
</g>
</g>
<rect x="574.3" y="1821.9" width="166.7" height="49" fill="#231f20"/>
<text x="657.6" y="1858.4" font-size="31.2" font-weight="bold" text-anchor="middle" fill="#fff">5 Heals</text>
<rect x="792.7" y="2116.5" width="68" height="6" fill="#fff"/>
<g clip-path="url(#semc6)">
<rect x="880.2" y="1821.9" width="416.1" height="312.1" fill="#6e6e6e"/>
<g filter="url(#sb6)">
<rect x="880" y="1822" width="40" height="312" fill="#767676"/>
</g>
<rect x="880.2" y="1843.4" width="10.4" height="290.6" fill="#000" opacity="0.06"/>
<rect x="880.2" y="1843.4" width="1.2" height="290.6" fill="#fff" opacity="0.41"/>
<rect x="889.1" y="1843.4" width="1.5" height="290.6" fill="#000" opacity="0.39"/>
<rect x="890.6" y="1827.2" width="8" height="129.1" fill="#fff" opacity="0.12"/>
<rect x="898.6" y="1821.9" width="10.7" height="210.3" fill="#fff" opacity="0.07"/>
<rect x="898.6" y="1821.9" width="1.2" height="210.3" fill="#fff" opacity="0.27"/>
<rect x="907.8" y="1821.9" width="1.5" height="210.3" fill="#000" opacity="0.26"/>
<rect x="909.3" y="1821.9" width="8.5" height="312.1" fill="#fff" opacity="0.15"/>
<rect x="909.3" y="1821.9" width="1.2" height="312.1" fill="#fff" opacity="0.49"/>
<rect x="917.8" y="1821.9" width="1.2" height="312.1" fill="#fff" opacity="0.47"/>
<rect x="927.7" y="1821.9" width="4.9" height="214.2" fill="#000" opacity="0.37"/>
<rect x="927.7" y="1821.9" width="1.2" height="214.2" fill="#fff" opacity="0.53"/>
<rect x="931" y="1821.9" width="1.5" height="214.2" fill="#000" opacity="0.45"/>
<rect x="932.5" y="1821.9" width="1.2" height="312.1" fill="#fff" opacity="0.46"/>
<rect x="944.3" y="1828.5" width="7.1" height="305.5" fill="#000" opacity="0.45"/>
<rect x="944.3" y="1828.5" width="1.2" height="305.5" fill="#fff" opacity="0.33"/>
<rect x="951.4" y="1821.9" width="4.9" height="312.1" fill="#fff" opacity="0.41"/>
<rect x="951.4" y="1821.9" width="1.2" height="312.1" fill="#fff" opacity="0.44"/>
<rect x="954.8" y="1821.9" width="1.5" height="312.1" fill="#000" opacity="0.29"/>
<rect x="956.3" y="1993.3" width="4.7" height="116.2" fill="#000" opacity="0.04"/>
<rect x="956.3" y="1993.3" width="1.2" height="116.2" fill="#fff" opacity="0.22"/>
<rect x="969.7" y="1821.9" width="1.5" height="312.1" fill="#000" opacity="0.32"/>
<rect x="971.2" y="1847.3" width="7.8" height="286.7" fill="#000" opacity="0.04"/>
<rect x="977.5" y="1847.3" width="1.5" height="286.7" fill="#000" opacity="0.25"/>
<rect x="979" y="1821.9" width="4.2" height="312.1" fill="#fff" opacity="0.13"/>
<rect x="983.2" y="1821.9" width="8.8" height="312.1" fill="#000" opacity="0.04"/>
<rect x="990.5" y="1821.9" width="1.5" height="312.1" fill="#000" opacity="0.39"/>
<rect x="992" y="1821.9" width="6.4" height="312.1" fill="#000" opacity="0.03"/>
<rect x="992" y="1821.9" width="1.2" height="312.1" fill="#fff" opacity="0.21"/>
<rect x="996.8" y="1821.9" width="1.5" height="312.1" fill="#000" opacity="0.23"/>
<rect x="998.3" y="1821.9" width="11" height="312.1" fill="#fff" opacity="0.20"/>
<rect x="1007.9" y="1821.9" width="1.5" height="312.1" fill="#000" opacity="0.49"/>
<rect x="1009.4" y="1821.9" width="7.1" height="136" fill="#000" opacity="0.21"/>
<rect x="1016.4" y="1985.2" width="6" height="78.3" fill="#fff" opacity="0.05"/>
<rect x="1022.4" y="1821.9" width="11.8" height="312.1" fill="#fff" opacity="0.02"/>
<rect x="1034.2" y="1821.9" width="8" height="176.3" fill="#000" opacity="0.60"/>
<rect x="1042.2" y="1821.9" width="9.7" height="312.1" fill="#000" opacity="0.03"/>
<rect x="1042.2" y="1821.9" width="1.2" height="312.1" fill="#fff" opacity="0.47"/>
<rect x="1050.4" y="1821.9" width="1.5" height="312.1" fill="#000" opacity="0.47"/>
<rect x="1051.9" y="1821.9" width="8.7" height="312.1" fill="#fff" opacity="0.07"/>
<rect x="1051.9" y="1821.9" width="1.2" height="312.1" fill="#fff" opacity="0.21"/>
<rect x="1060.6" y="1821.9" width="8.7" height="312.1" fill="#000" opacity="0.22"/>
<rect x="1067.8" y="1821.9" width="1.5" height="312.1" fill="#000" opacity="0.35"/>
<rect x="1069.3" y="1838.1" width="9" height="295.9" fill="#000" opacity="0.27"/>
<rect x="1069.3" y="1838.1" width="1.2" height="295.9" fill="#fff" opacity="0.36"/>
<rect x="1078.3" y="1821.9" width="10.8" height="312.1" fill="#fff" opacity="0.30"/>
<rect x="1089.1" y="1821.9" width="4.6" height="312.1" fill="#fff" opacity="0.09"/>
<rect x="1092.2" y="1821.9" width="1.5" height="312.1" fill="#000" opacity="0.44"/>
<rect x="1093.7" y="1821.9" width="10.5" height="212.2" fill="#fff" opacity="0.18"/>
<rect x="1093.7" y="1821.9" width="1.2" height="212.2" fill="#fff" opacity="0.22"/>
<rect x="1104.2" y="1821.9" width="11.9" height="312.1" fill="#000" opacity="0.40"/>
<rect x="1104.2" y="1821.9" width="1.2" height="312.1" fill="#fff" opacity="0.37"/>
<rect x="1116.1" y="1821.9" width="10.2" height="312.1" fill="#000" opacity="0.09"/>
<rect x="1126.2" y="1821.9" width="9.3" height="312.1" fill="#fff" opacity="0.19"/>
<rect x="1126.2" y="1821.9" width="1.2" height="312.1" fill="#fff" opacity="0.27"/>
<rect x="1135.5" y="1821.9" width="12" height="312.1" fill="#000" opacity="0.10"/>
<rect x="1135.5" y="1821.9" width="1.2" height="312.1" fill="#fff" opacity="0.38"/>
<rect x="1147.5" y="1821.9" width="5.7" height="312.1" fill="#fff" opacity="0.26"/>
<rect x="1147.5" y="1821.9" width="1.2" height="312.1" fill="#fff" opacity="0.43"/>
<rect x="1153.2" y="1821.9" width="8.2" height="198.5" fill="#000" opacity="0.15"/>
<rect x="1153.2" y="1821.9" width="1.2" height="198.5" fill="#fff" opacity="0.30"/>
<rect x="1159.9" y="1821.9" width="1.5" height="198.5" fill="#000" opacity="0.20"/>
<rect x="1161.4" y="1821.9" width="6.4" height="312.1" fill="#fff" opacity="0.05"/>
<rect x="1161.4" y="1821.9" width="1.2" height="312.1" fill="#fff" opacity="0.44"/>
<rect x="1167.8" y="1821.9" width="10.4" height="312.1" fill="#000" opacity="0.13"/>
<rect x="1178.2" y="1902.3" width="7.1" height="73.4" fill="#000" opacity="0.31"/>
<rect x="1178.2" y="1902.3" width="1.2" height="73.4" fill="#fff" opacity="0.53"/>
<rect x="1196.2" y="1887.5" width="8.8" height="246.5" fill="#000" opacity="0.03"/>
<rect x="1196.2" y="1887.5" width="1.2" height="246.5" fill="#fff" opacity="0.52"/>
<rect x="1203.5" y="1887.5" width="1.5" height="246.5" fill="#000" opacity="0.35"/>
<rect x="1205" y="1869.8" width="6.4" height="111.2" fill="#000" opacity="0.05"/>
<rect x="1205" y="1869.8" width="1.2" height="111.2" fill="#fff" opacity="0.21"/>
<rect x="1211.4" y="1821.9" width="8.1" height="312.1" fill="#fff" opacity="0.06"/>
<rect x="1211.4" y="1821.9" width="1.2" height="312.1" fill="#fff" opacity="0.21"/>
<rect x="1219.4" y="1821.9" width="7.9" height="312.1" fill="#000" opacity="0.15"/>
<rect x="1227.3" y="1821.9" width="6.2" height="205" fill="#000" opacity="0.13"/>
<rect x="1227.3" y="1821.9" width="1.2" height="205" fill="#fff" opacity="0.40"/>
<rect x="1233.5" y="1821.9" width="4.3" height="312.1" fill="#000" opacity="0.13"/>
<rect x="1237.8" y="1831.7" width="6.2" height="302.3" fill="#000" opacity="0.21"/>
<rect x="1237.8" y="1831.7" width="1.2" height="302.3" fill="#fff" opacity="0.27"/>
<rect x="1244" y="1821.9" width="9.6" height="312.1" fill="#000" opacity="0.14"/>
<rect x="1244" y="1821.9" width="1.2" height="312.1" fill="#fff" opacity="0.34"/>
<rect x="1253.6" y="1821.9" width="1.2" height="312.1" fill="#fff" opacity="0.48"/>
<rect x="1260.6" y="1821.9" width="10" height="312.1" fill="#000" opacity="0.10"/>
<rect x="1269.1" y="1821.9" width="1.5" height="312.1" fill="#000" opacity="0.49"/>
<rect x="1270.6" y="1934.3" width="8.5" height="119" fill="#fff" opacity="0.19"/>
<rect x="1270.6" y="1934.3" width="1.2" height="119" fill="#fff" opacity="0.27"/>
<rect x="1279" y="1879" width="11.9" height="255" fill="#fff" opacity="0.03"/>
<rect x="1289.4" y="1879" width="1.5" height="255" fill="#000" opacity="0.30"/>
<rect x="1290.9" y="1821.9" width="8.8" height="199.3" fill="#fff" opacity="0.22"/>
<rect x="1290.9" y="1821.9" width="1.2" height="199.3" fill="#fff" opacity="0.27"/>
<rect x="880.2" y="1821.9" width="416.1" height="312.1" filter="url(#tx6)"/>
<g filter="url(#sf2)">
<rect x="880" y="1822" width="20" height="312" fill="#a8a8a8" opacity="0.5"/>
<rect x="1055" y="1918" width="17" height="72" fill="#2e2e2e" opacity="0.6"/>
</g>
</g>
<rect x="1005.9" y="1821.9" width="166.2" height="49" fill="#231f20"/>
<text x="1089" y="1858.4" font-size="31.2" font-weight="bold" text-anchor="middle" fill="#fff">10 Heals</text>
<rect x="1223.8" y="2116.5" width="68" height="6" fill="#fff"/>
<g clip-path="url(#semc7)">
<rect x="1312" y="1821.9" width="417.2" height="312.1" fill="#606060"/>
<g filter="url(#sb7)">
<rect x="1312" y="1822" width="215" height="312" fill="#616161"/>
<rect x="1527" y="1822" width="55" height="312" fill="#8a8a8a"/>
<rect x="1582" y="1822" width="40" height="312" fill="#505050"/>
<rect x="1622" y="1822" width="108" height="312" fill="#5c5c5c"/>
</g>
<rect x="1312" y="1821.9" width="10" height="312.1" fill="#fff" opacity="0.12"/>
<rect x="1322" y="1821.9" width="12.9" height="120.4" fill="#fff" opacity="0.30"/>
<rect x="1322" y="1821.9" width="1.2" height="120.4" fill="#fff" opacity="0.26"/>
<rect x="1334.8" y="1821.9" width="12.7" height="106.8" fill="#fff" opacity="0.06"/>
<rect x="1346" y="1821.9" width="1.5" height="106.8" fill="#000" opacity="0.46"/>
<rect x="1347.5" y="2006.9" width="8.2" height="95.8" fill="#fff" opacity="0.07"/>
<rect x="1355.7" y="1821.9" width="6.3" height="312.1" fill="#000" opacity="0.15"/>
<rect x="1355.7" y="1821.9" width="1.2" height="312.1" fill="#fff" opacity="0.33"/>
<rect x="1360.5" y="1821.9" width="1.5" height="312.1" fill="#000" opacity="0.33"/>
<rect x="1362" y="1825.8" width="1.2" height="308.2" fill="#fff" opacity="0.23"/>
<rect x="1371.1" y="1821.9" width="13.1" height="312.1" fill="#fff" opacity="0.14"/>
<rect x="1371.1" y="1821.9" width="1.2" height="312.1" fill="#fff" opacity="0.31"/>
<rect x="1384.2" y="1821.9" width="9.9" height="312.1" fill="#000" opacity="0.02"/>
<rect x="1384.2" y="1821.9" width="1.2" height="312.1" fill="#fff" opacity="0.40"/>
<rect x="1394" y="1995.4" width="10.8" height="44.9" fill="#000" opacity="0.26"/>
<rect x="1394" y="1995.4" width="1.2" height="44.9" fill="#fff" opacity="0.28"/>
<rect x="1404.8" y="1821.9" width="13.7" height="312.1" fill="#000" opacity="0.28"/>
<rect x="1404.8" y="1821.9" width="1.2" height="312.1" fill="#fff" opacity="0.31"/>
<rect x="1417" y="1821.9" width="1.5" height="312.1" fill="#000" opacity="0.37"/>
<rect x="1418.5" y="1821.9" width="8" height="312.1" fill="#fff" opacity="0.22"/>
<rect x="1418.5" y="1821.9" width="1.2" height="312.1" fill="#fff" opacity="0.25"/>
<rect x="1426.5" y="1959.1" width="1.2" height="174.9" fill="#fff" opacity="0.55"/>
<rect x="1442.2" y="1874.6" width="9" height="244.2" fill="#000" opacity="0.09"/>
<rect x="1442.2" y="1874.6" width="1.2" height="244.2" fill="#fff" opacity="0.46"/>
<rect x="1449.7" y="1874.6" width="1.5" height="244.2" fill="#000" opacity="0.30"/>
<rect x="1451.2" y="1821.9" width="8" height="312.1" fill="#000" opacity="0.08"/>
<rect x="1451.2" y="1821.9" width="1.2" height="312.1" fill="#fff" opacity="0.39"/>
<rect x="1459.2" y="1828.5" width="12.9" height="169.9" fill="#000" opacity="0.04"/>
<rect x="1459.2" y="1828.5" width="1.2" height="169.9" fill="#fff" opacity="0.51"/>
<rect x="1472.1" y="1821.9" width="10.4" height="312.1" fill="#000" opacity="0.11"/>
<rect x="1482.5" y="1821.9" width="9.9" height="312.1" fill="#000" opacity="0.05"/>
<rect x="1482.5" y="1821.9" width="1.2" height="312.1" fill="#fff" opacity="0.54"/>
<rect x="1492.5" y="1860.4" width="13.7" height="106.5" fill="#fff" opacity="0.13"/>
<rect x="1492.5" y="1860.4" width="1.2" height="106.5" fill="#fff" opacity="0.23"/>
<rect x="1506.2" y="1906.6" width="10.5" height="227.4" fill="#000" opacity="0.05"/>
<rect x="1515.2" y="1906.6" width="1.5" height="227.4" fill="#000" opacity="0.44"/>
<rect x="1516.7" y="1821.9" width="7.6" height="312.1" fill="#000" opacity="0.09"/>
<rect x="1524.4" y="1821.9" width="7.1" height="312.1" fill="#fff" opacity="0.16"/>
<rect x="1530" y="1821.9" width="1.5" height="312.1" fill="#000" opacity="0.29"/>
<rect x="1531.5" y="1894.3" width="14.8" height="239.7" fill="#fff" opacity="0.29"/>
<rect x="1531.5" y="1894.3" width="1.2" height="239.7" fill="#fff" opacity="0.38"/>
<rect x="1546.2" y="1968.7" width="15.9" height="165.3" fill="#000" opacity="0.18"/>
<rect x="1546.2" y="1968.7" width="1.2" height="165.3" fill="#fff" opacity="0.48"/>
<rect x="1562.2" y="1821.9" width="13.5" height="312.1" fill="#fff" opacity="0.14"/>
<rect x="1562.2" y="1821.9" width="1.2" height="312.1" fill="#fff" opacity="0.28"/>
<rect x="1575.6" y="1821.9" width="13.6" height="287.6" fill="#fff" opacity="0.05"/>
<rect x="1575.6" y="1821.9" width="1.2" height="287.6" fill="#fff" opacity="0.31"/>
<rect x="1589.2" y="1908.1" width="7.8" height="225.9" fill="#000" opacity="0.10"/>
<rect x="1589.2" y="1908.1" width="1.2" height="225.9" fill="#fff" opacity="0.31"/>
<rect x="1597" y="1821.9" width="8.2" height="312.1" fill="#000" opacity="0.02"/>
<rect x="1597" y="1821.9" width="1.2" height="312.1" fill="#fff" opacity="0.53"/>
<rect x="1603.7" y="1821.9" width="1.5" height="312.1" fill="#000" opacity="0.43"/>
<rect x="1605.2" y="1821.9" width="9" height="312.1" fill="#000" opacity="0.09"/>
<rect x="1612.7" y="1821.9" width="1.5" height="312.1" fill="#000" opacity="0.46"/>
<rect x="1614.2" y="1912.5" width="7.9" height="221.5" fill="#fff" opacity="0.14"/>
<rect x="1631.5" y="1821.9" width="11.3" height="312.1" fill="#000" opacity="0.06"/>
<rect x="1641.3" y="1821.9" width="1.5" height="312.1" fill="#000" opacity="0.37"/>
<rect x="1642.8" y="1821.9" width="7.3" height="312.1" fill="#000" opacity="0.21"/>
<rect x="1650.1" y="1862.9" width="7.7" height="204.4" fill="#000" opacity="0.23"/>
<rect x="1650.1" y="1862.9" width="1.2" height="204.4" fill="#fff" opacity="0.37"/>
<rect x="1657.8" y="1821.9" width="1.2" height="312.1" fill="#fff" opacity="0.44"/>
<rect x="1667.3" y="1821.9" width="15.4" height="312.1" fill="#000" opacity="0.05"/>
<rect x="1681.2" y="1821.9" width="1.5" height="312.1" fill="#000" opacity="0.40"/>
<rect x="1682.7" y="2005.7" width="10.5" height="128.3" fill="#fff" opacity="0.05"/>
<rect x="1693.1" y="1821.9" width="15.4" height="312.1" fill="#fff" opacity="0.07"/>
<rect x="1707.1" y="1821.9" width="1.5" height="312.1" fill="#000" opacity="0.49"/>
<rect x="1708.6" y="1868.7" width="14.5" height="265.3" fill="#fff" opacity="0.03"/>
<rect x="1723" y="1821.9" width="13.9" height="173.8" fill="#000" opacity="0.15"/>
<rect x="1723" y="1821.9" width="1.2" height="173.8" fill="#fff" opacity="0.42"/>
<rect x="1312" y="1821.9" width="417.2" height="312.1" filter="url(#tx7)"/>
<path d="M1312,1822 L1535,1822 L1527,1900 L1518,2134 L1312,2134 Z" fill="#5b5b5b"/>
<path d="M1527,1870 L1585,1870 L1560,2134 L1518,2134 Z" fill="#a8a8a8" opacity="0.6"/>
<path d="M1312,1955 L1400,1950" stroke="#5a5a5a" stroke-width="2" opacity="0.5"/>
<circle cx="1337" cy="1860" r="2.5" fill="#ddd"/><circle cx="1400" cy="1948" r="3" fill="#ddd"/><circle cx="1395" cy="2045" r="3" fill="#ddd"/><circle cx="1340" cy="2090" r="4" fill="#ccc"/>
</g>
<rect x="1437.7" y="1821.9" width="166.8" height="49" fill="#231f20"/>
<text x="1521.1" y="1858.4" font-size="31.2" font-weight="bold" text-anchor="middle" fill="#fff">20 Heals</text>
<rect x="1656.7" y="2116.5" width="68" height="6" fill="#fff"/>
<text x="41.6" y="1613.8" font-size="25.3" font-weight="bold" fill="#fff">Glass</text>
<text x="41.6" y="1645.3" font-size="25.3" font-weight="bold" fill="#fff">Fibers</text>
<line x1="59.8" y1="1657.9" x2="66.5" y2="1713" stroke="#fff" stroke-width="5"/><path d="M68.4,1728.9 L57.8,1712.1 L74.7,1710 Z" fill="#fff"/>
<text x="205.3" y="1758.3" font-size="25.3" font-weight="bold" fill="#fff">EMAA</text>
<line x1="244.8" y1="1721.3" x2="268.5" y2="1693" stroke="#fff" stroke-width="5"/><path d="M278.8,1680.7 L273.8,1700 L260.7,1689 Z" fill="#fff"/>
<text x="56.8" y="1938.5" font-size="25.3" font-weight="bold" fill="#fff">Carbon</text>
<text x="56.8" y="1968.9" font-size="25.3" font-weight="bold" fill="#fff">Fiber</text>
<line x1="117.6" y1="1977.5" x2="145.2" y2="1997.5" stroke="#fff" stroke-width="5"/><path d="M158.1,2006.9 L138.5,2003.2 L148.5,1989.4 Z" fill="#fff"/>
<text x="31.9" y="2096.6" font-size="25.3" font-weight="bold" fill="#fff">Epoxy</text>
<text x="31.9" y="2127" font-size="25.3" font-weight="bold" fill="#fff">Debond</text>
<line x1="79.6" y1="2065.2" x2="112.3" y2="2043.6" stroke="#fff" stroke-width="5"/><path d="M125.7,2034.8 L115.4,2051.8 L106,2037.6 Z" fill="#fff"/>
<text x="277.7" y="2038.3" font-size="25.3" font-weight="bold" fill="#fff">EMAA</text>
<line x1="320.8" y1="2006.9" x2="356.8" y2="1966.6" stroke="#fff" stroke-width="5"/><path d="M367.5,1954.7 L361.8,1973.8 L349.2,1962.4 Z" fill="#fff"/>
<text x="1336.3" y="1749.2" font-size="25.3" font-weight="bold" fill="#fff">EMAA</text>
<line x1="1378.9" y1="1716.2" x2="1435.5" y2="1669.2" stroke="#fff" stroke-width="5"/><path d="M1447.8,1659 L1439.4,1677 L1428.5,1664 Z" fill="#fff"/>
<text x="1383" y="2096.6" font-size="25.3" font-weight="bold" fill="#fff">EMAA</text>
<line x1="1426" y1="2066.2" x2="1461.3" y2="2025.1" stroke="#fff" stroke-width="5"/><path d="M1471.7,2013 L1466.4,2032.2 L1453.5,2021.1 Z" fill="#fff"/>
</svg></div></body></html>
